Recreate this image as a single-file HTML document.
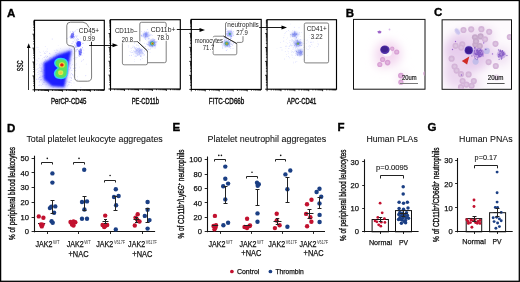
<!DOCTYPE html>
<html><head><meta charset="utf-8"><style>
html,body{margin:0;padding:0;background:#fff;}
svg{display:block;font-family:"Liberation Sans", sans-serif;will-change:transform;}
</style></head><body>
<svg width="520" height="282" viewBox="0 0 520 282">
<rect width="520" height="282" fill="#fff"/>
<rect x="0.6" y="0.5" width="518.7" height="280.8" fill="none" stroke="#000" stroke-width="1.3"/>
<text x="7.0" y="16.5" font-size="11.5" text-anchor="start" fill="#000" font-weight="bold" stroke="#000" stroke-width="0.35">A</text>
<text x="345.8" y="16.599999999999998" font-size="11.5" text-anchor="start" fill="#000" font-weight="bold" stroke="#000" stroke-width="0.35">B</text>
<text x="434.0" y="16.2" font-size="11.5" text-anchor="start" fill="#000" font-weight="bold" stroke="#000" stroke-width="0.35">C</text>
<text x="6.9" y="131.5" font-size="11.5" text-anchor="start" fill="#000" font-weight="bold" stroke="#000" stroke-width="0.35">D</text>
<text x="172.6" y="131.1" font-size="11.5" text-anchor="start" fill="#000" font-weight="bold" stroke="#000" stroke-width="0.35">E</text>
<text x="337.6" y="131.2" font-size="11.5" text-anchor="start" fill="#000" font-weight="bold" stroke="#000" stroke-width="0.35">F</text>
<text x="427.6" y="131.2" font-size="11.5" text-anchor="start" fill="#000" font-weight="bold" stroke="#000" stroke-width="0.35">G</text>
<defs><filter id="b1" x="-50%" y="-50%" width="200%" height="200%"><feGaussianBlur stdDeviation="1.2"/></filter><filter id="b2" x="-50%" y="-50%" width="200%" height="200%"><feGaussianBlur stdDeviation="2.2"/></filter><filter id="b05" x="-50%" y="-50%" width="200%" height="200%"><feGaussianBlur stdDeviation="0.6"/></filter><filter id="b03" x="-50%" y="-50%" width="200%" height="200%"><feGaussianBlur stdDeviation="0.35"/></filter><filter id="b4" x="-50%" y="-50%" width="200%" height="200%"><feGaussianBlur stdDeviation="5"/></filter><radialGradient id="glowB" cx="50%" cy="50%" r="50%"><stop offset="0" stop-color="#f0c8ea" stop-opacity="0.9"/><stop offset="1" stop-color="#fff" stop-opacity="0"/></radialGradient><radialGradient id="bgC" cx="45%" cy="50%" r="70%"><stop offset="0" stop-color="#f3e6f3"/><stop offset="0.6" stop-color="#f5ebf6"/><stop offset="1" stop-color="#fbf7fc"/></radialGradient></defs>
<rect x="34.5" y="20.3" width="69.80" height="69.50" fill="none" stroke="#000" stroke-width="1.15"/>
<path d="M32.50,89.80h2.0 M33.30,85.62h1.2 M33.30,83.17h1.2 M33.30,81.43h1.2 M33.30,80.08h1.2 M33.30,78.98h1.2 M33.30,78.05h1.2 M33.30,77.25h1.2 M33.30,76.54h1.2 M32.50,75.90h2.0 M33.30,71.72h1.2 M33.30,69.27h1.2 M33.30,67.53h1.2 M33.30,66.18h1.2 M33.30,65.08h1.2 M33.30,64.15h1.2 M33.30,63.35h1.2 M33.30,62.64h1.2 M32.50,62.00h2.0 M33.30,57.82h1.2 M33.30,55.37h1.2 M33.30,53.63h1.2 M33.30,52.28h1.2 M33.30,51.18h1.2 M33.30,50.25h1.2 M33.30,49.45h1.2 M33.30,48.74h1.2 M32.50,48.10h2.0 M33.30,43.92h1.2 M33.30,41.47h1.2 M33.30,39.73h1.2 M33.30,38.38h1.2 M33.30,37.28h1.2 M33.30,36.35h1.2 M33.30,35.55h1.2 M33.30,34.84h1.2 M32.50,34.20h2.0 M33.30,30.02h1.2 M33.30,27.57h1.2 M33.30,25.83h1.2 M33.30,24.48h1.2 M33.30,23.38h1.2 M33.30,22.45h1.2 M33.30,21.65h1.2 M33.30,20.94h1.2 M34.50,89.8v2.0 M38.70,89.8v1.2 M41.16,89.8v1.2 M42.90,89.8v1.2 M44.26,89.8v1.2 M45.36,89.8v1.2 M46.30,89.8v1.2 M47.11,89.8v1.2 M47.82,89.8v1.2 M48.46,89.8v2.0 M52.66,89.8v1.2 M55.12,89.8v1.2 M56.86,89.8v1.2 M58.22,89.8v1.2 M59.32,89.8v1.2 M60.26,89.8v1.2 M61.07,89.8v1.2 M61.78,89.8v1.2 M62.42,89.8v2.0 M66.62,89.8v1.2 M69.08,89.8v1.2 M70.82,89.8v1.2 M72.18,89.8v1.2 M73.28,89.8v1.2 M74.22,89.8v1.2 M75.03,89.8v1.2 M75.74,89.8v1.2 M76.38,89.8v2.0 M80.58,89.8v1.2 M83.04,89.8v1.2 M84.78,89.8v1.2 M86.14,89.8v1.2 M87.24,89.8v1.2 M88.18,89.8v1.2 M88.99,89.8v1.2 M89.70,89.8v1.2 M90.34,89.8v2.0 M94.54,89.8v1.2 M97.00,89.8v1.2 M98.74,89.8v1.2 M100.10,89.8v1.2 M101.20,89.8v1.2 M102.14,89.8v1.2 M102.95,89.8v1.2 M103.66,89.8v1.2" stroke="#000" stroke-width="0.85" fill="none"/>
<clipPath id="clipP1"><rect x="34.9" y="20.7" width="68.8" height="68.7"/></clipPath><g clip-path="url(#clipP1)">
<g fill="#5a5aff" opacity="0.4"><circle cx="53.4" cy="74.6" r="0.41"/><circle cx="67.1" cy="74.9" r="0.34"/><circle cx="67.1" cy="73.8" r="0.26"/><circle cx="52.5" cy="71.4" r="0.27"/><circle cx="39.3" cy="77.7" r="0.28"/><circle cx="58.4" cy="82.5" r="0.49"/><circle cx="47.1" cy="65.8" r="0.49"/><circle cx="74.9" cy="75.1" r="0.32"/><circle cx="59.1" cy="73.5" r="0.33"/><circle cx="58.5" cy="64.8" r="0.40"/><circle cx="49.8" cy="63.3" r="0.39"/><circle cx="59.2" cy="71.2" r="0.30"/><circle cx="51.5" cy="61.4" r="0.33"/><circle cx="46.6" cy="64.9" r="0.32"/><circle cx="60.3" cy="56.6" r="0.31"/><circle cx="45.1" cy="65.0" r="0.47"/><circle cx="54.9" cy="62.6" r="0.50"/><circle cx="63.7" cy="76.3" r="0.44"/><circle cx="62.7" cy="78.5" r="0.26"/><circle cx="47.6" cy="56.7" r="0.39"/><circle cx="62.2" cy="64.5" r="0.42"/><circle cx="45.1" cy="63.4" r="0.36"/><circle cx="68.9" cy="51.7" r="0.37"/><circle cx="54.2" cy="67.3" r="0.43"/><circle cx="37.0" cy="47.3" r="0.46"/><circle cx="53.9" cy="78.7" r="0.42"/><circle cx="67.0" cy="71.4" r="0.29"/><circle cx="58.6" cy="72.1" r="0.44"/><circle cx="61.2" cy="74.9" r="0.35"/><circle cx="58.8" cy="67.3" r="0.36"/><circle cx="36.3" cy="64.3" r="0.45"/><circle cx="61.3" cy="64.5" r="0.35"/><circle cx="42.9" cy="84.5" r="0.49"/><circle cx="59.6" cy="74.6" r="0.31"/><circle cx="57.2" cy="80.3" r="0.40"/><circle cx="55.9" cy="70.8" r="0.35"/><circle cx="47.2" cy="78.5" r="0.49"/><circle cx="51.6" cy="59.9" r="0.40"/><circle cx="54.5" cy="67.3" r="0.47"/><circle cx="59.8" cy="52.0" r="0.45"/><circle cx="48.1" cy="75.7" r="0.28"/><circle cx="53.6" cy="67.6" r="0.27"/><circle cx="57.5" cy="75.2" r="0.34"/><circle cx="56.2" cy="70.1" r="0.29"/><circle cx="63.6" cy="75.1" r="0.26"/><circle cx="65.7" cy="61.2" r="0.29"/><circle cx="55.9" cy="78.3" r="0.34"/><circle cx="69.9" cy="82.2" r="0.50"/><circle cx="44.8" cy="72.2" r="0.27"/><circle cx="63.3" cy="74.9" r="0.32"/><circle cx="58.8" cy="65.3" r="0.26"/><circle cx="67.7" cy="66.7" r="0.29"/><circle cx="53.7" cy="69.4" r="0.38"/><circle cx="75.8" cy="67.6" r="0.42"/><circle cx="55.3" cy="78.6" r="0.29"/><circle cx="57.7" cy="59.0" r="0.44"/><circle cx="52.6" cy="75.6" r="0.45"/><circle cx="75.5" cy="68.3" r="0.45"/><circle cx="62.8" cy="56.6" r="0.31"/><circle cx="46.7" cy="69.1" r="0.26"/><circle cx="64.0" cy="71.3" r="0.31"/><circle cx="47.2" cy="48.9" r="0.36"/><circle cx="83.5" cy="59.7" r="0.49"/><circle cx="51.3" cy="74.8" r="0.31"/><circle cx="58.2" cy="75.7" r="0.41"/><circle cx="71.5" cy="59.9" r="0.37"/><circle cx="45.7" cy="56.8" r="0.27"/><circle cx="44.3" cy="53.3" r="0.45"/><circle cx="56.0" cy="59.7" r="0.29"/><circle cx="58.2" cy="62.2" r="0.45"/><circle cx="65.9" cy="68.4" r="0.35"/><circle cx="71.2" cy="65.3" r="0.29"/><circle cx="60.0" cy="73.7" r="0.48"/><circle cx="58.0" cy="65.3" r="0.46"/><circle cx="70.5" cy="68.4" r="0.34"/><circle cx="50.9" cy="68.6" r="0.25"/><circle cx="70.2" cy="67.6" r="0.38"/><circle cx="65.8" cy="66.1" r="0.47"/><circle cx="59.2" cy="64.5" r="0.31"/><circle cx="54.0" cy="76.4" r="0.40"/><circle cx="55.4" cy="79.4" r="0.28"/><circle cx="63.9" cy="65.5" r="0.36"/><circle cx="37.2" cy="60.2" r="0.36"/><circle cx="66.3" cy="64.8" r="0.38"/><circle cx="54.1" cy="69.7" r="0.36"/><circle cx="56.4" cy="70.7" r="0.45"/><circle cx="61.3" cy="79.0" r="0.43"/><circle cx="47.7" cy="67.2" r="0.38"/><circle cx="39.5" cy="64.6" r="0.28"/><circle cx="49.0" cy="67.5" r="0.32"/><circle cx="57.7" cy="59.4" r="0.39"/><circle cx="57.4" cy="50.2" r="0.36"/><circle cx="47.0" cy="63.1" r="0.38"/><circle cx="52.1" cy="60.8" r="0.38"/><circle cx="32.4" cy="73.0" r="0.42"/><circle cx="73.0" cy="55.0" r="0.31"/><circle cx="33.7" cy="62.1" r="0.46"/><circle cx="59.3" cy="73.5" r="0.36"/><circle cx="62.7" cy="72.9" r="0.27"/><circle cx="47.5" cy="56.2" r="0.47"/><circle cx="65.0" cy="81.8" r="0.42"/><circle cx="68.9" cy="84.6" r="0.49"/><circle cx="60.7" cy="91.8" r="0.35"/><circle cx="25.8" cy="72.2" r="0.46"/><circle cx="61.6" cy="78.1" r="0.38"/><circle cx="52.5" cy="75.0" r="0.33"/><circle cx="55.7" cy="68.2" r="0.39"/><circle cx="54.2" cy="70.6" r="0.33"/><circle cx="47.5" cy="62.4" r="0.27"/><circle cx="73.5" cy="68.5" r="0.49"/><circle cx="62.2" cy="74.3" r="0.26"/><circle cx="57.4" cy="63.0" r="0.28"/><circle cx="36.6" cy="79.3" r="0.45"/><circle cx="55.7" cy="75.1" r="0.48"/><circle cx="42.0" cy="64.0" r="0.27"/><circle cx="70.3" cy="74.9" r="0.36"/><circle cx="77.2" cy="79.3" r="0.41"/><circle cx="57.3" cy="66.4" r="0.46"/><circle cx="74.2" cy="77.3" r="0.36"/><circle cx="49.3" cy="79.7" r="0.48"/><circle cx="55.4" cy="74.7" r="0.38"/><circle cx="56.3" cy="74.3" r="0.29"/><circle cx="62.4" cy="71.9" r="0.33"/><circle cx="50.3" cy="84.3" r="0.32"/><circle cx="49.7" cy="70.0" r="0.34"/><circle cx="63.5" cy="70.8" r="0.25"/><circle cx="54.7" cy="58.7" r="0.30"/><circle cx="32.9" cy="73.3" r="0.28"/><circle cx="60.5" cy="61.3" r="0.37"/><circle cx="61.1" cy="62.2" r="0.38"/><circle cx="45.2" cy="46.3" r="0.34"/><circle cx="63.7" cy="57.7" r="0.41"/><circle cx="48.4" cy="74.7" r="0.26"/><circle cx="58.6" cy="72.5" r="0.44"/><circle cx="55.8" cy="75.4" r="0.27"/><circle cx="67.0" cy="54.7" r="0.42"/><circle cx="54.5" cy="76.6" r="0.32"/><circle cx="50.3" cy="71.3" r="0.36"/><circle cx="53.9" cy="92.9" r="0.49"/><circle cx="48.8" cy="68.0" r="0.49"/><circle cx="52.6" cy="77.9" r="0.25"/><circle cx="47.7" cy="76.9" r="0.38"/><circle cx="59.6" cy="80.2" r="0.25"/><circle cx="55.6" cy="73.9" r="0.35"/><circle cx="58.1" cy="70.5" r="0.33"/><circle cx="57.4" cy="81.9" r="0.38"/><circle cx="56.0" cy="56.8" r="0.43"/><circle cx="63.2" cy="63.8" r="0.33"/><circle cx="61.7" cy="69.5" r="0.43"/><circle cx="54.1" cy="67.9" r="0.46"/><circle cx="66.9" cy="62.1" r="0.43"/><circle cx="58.1" cy="65.4" r="0.38"/><circle cx="37.0" cy="69.5" r="0.45"/><circle cx="62.1" cy="59.4" r="0.47"/><circle cx="49.7" cy="57.4" r="0.31"/><circle cx="61.2" cy="70.9" r="0.34"/><circle cx="71.0" cy="80.5" r="0.39"/><circle cx="46.3" cy="60.9" r="0.42"/><circle cx="55.2" cy="70.0" r="0.45"/><circle cx="55.9" cy="59.4" r="0.38"/><circle cx="54.0" cy="67.2" r="0.43"/><circle cx="55.9" cy="73.5" r="0.32"/><circle cx="55.1" cy="64.0" r="0.43"/><circle cx="67.5" cy="68.4" r="0.35"/><circle cx="41.0" cy="71.8" r="0.44"/><circle cx="45.4" cy="61.3" r="0.27"/><circle cx="60.6" cy="75.5" r="0.44"/><circle cx="51.7" cy="81.0" r="0.25"/><circle cx="63.3" cy="72.6" r="0.42"/><circle cx="50.7" cy="57.4" r="0.32"/><circle cx="44.9" cy="69.0" r="0.37"/><circle cx="71.6" cy="82.9" r="0.30"/><circle cx="79.2" cy="67.1" r="0.25"/><circle cx="38.1" cy="74.2" r="0.49"/><circle cx="48.5" cy="72.2" r="0.30"/><circle cx="62.5" cy="67.9" r="0.40"/><circle cx="63.7" cy="78.5" r="0.49"/><circle cx="68.5" cy="82.3" r="0.38"/><circle cx="67.8" cy="60.8" r="0.31"/><circle cx="65.2" cy="63.8" r="0.26"/><circle cx="67.6" cy="70.2" r="0.36"/><circle cx="54.2" cy="74.7" r="0.34"/><circle cx="48.3" cy="85.8" r="0.25"/><circle cx="56.1" cy="52.8" r="0.28"/><circle cx="70.1" cy="63.7" r="0.48"/><circle cx="53.6" cy="78.4" r="0.35"/><circle cx="69.3" cy="69.9" r="0.34"/><circle cx="48.8" cy="73.2" r="0.26"/><circle cx="71.2" cy="80.2" r="0.32"/><circle cx="63.0" cy="67.3" r="0.32"/><circle cx="49.5" cy="69.6" r="0.34"/><circle cx="76.0" cy="64.9" r="0.45"/><circle cx="40.9" cy="55.4" r="0.49"/><circle cx="40.8" cy="65.6" r="0.26"/><circle cx="54.8" cy="60.2" r="0.44"/><circle cx="50.9" cy="64.2" r="0.26"/><circle cx="60.7" cy="67.9" r="0.37"/><circle cx="51.3" cy="76.3" r="0.43"/><circle cx="63.7" cy="69.0" r="0.41"/><circle cx="52.0" cy="80.9" r="0.35"/><circle cx="58.9" cy="74.6" r="0.30"/><circle cx="65.7" cy="64.1" r="0.31"/><circle cx="83.9" cy="53.2" r="0.36"/><circle cx="60.2" cy="74.5" r="0.27"/><circle cx="53.6" cy="73.3" r="0.31"/><circle cx="55.3" cy="81.7" r="0.47"/><circle cx="56.0" cy="60.7" r="0.35"/><circle cx="46.4" cy="68.7" r="0.33"/><circle cx="63.5" cy="72.8" r="0.49"/><circle cx="64.3" cy="77.6" r="0.41"/><circle cx="60.5" cy="65.2" r="0.32"/><circle cx="56.1" cy="79.1" r="0.36"/><circle cx="74.6" cy="65.0" r="0.47"/><circle cx="58.5" cy="70.3" r="0.43"/><circle cx="65.0" cy="63.8" r="0.40"/><circle cx="66.0" cy="70.0" r="0.48"/><circle cx="65.0" cy="54.3" r="0.49"/><circle cx="56.0" cy="74.3" r="0.29"/><circle cx="41.0" cy="68.1" r="0.49"/><circle cx="53.4" cy="57.2" r="0.44"/><circle cx="43.8" cy="73.0" r="0.26"/><circle cx="57.5" cy="63.6" r="0.48"/><circle cx="50.8" cy="63.9" r="0.28"/><circle cx="55.8" cy="82.8" r="0.42"/><circle cx="58.9" cy="72.2" r="0.38"/><circle cx="47.4" cy="65.6" r="0.31"/><circle cx="54.8" cy="69.2" r="0.33"/><circle cx="31.5" cy="75.6" r="0.41"/><circle cx="64.5" cy="63.2" r="0.31"/><circle cx="56.5" cy="92.9" r="0.43"/><circle cx="55.3" cy="71.8" r="0.37"/><circle cx="51.2" cy="61.6" r="0.31"/><circle cx="44.7" cy="52.2" r="0.31"/><circle cx="64.9" cy="71.7" r="0.36"/><circle cx="53.3" cy="64.5" r="0.45"/><circle cx="55.2" cy="59.4" r="0.30"/><circle cx="64.5" cy="68.5" r="0.46"/><circle cx="56.9" cy="76.3" r="0.44"/><circle cx="49.1" cy="91.3" r="0.37"/><circle cx="58.7" cy="75.9" r="0.35"/><circle cx="43.6" cy="51.1" r="0.29"/><circle cx="50.6" cy="73.9" r="0.49"/><circle cx="58.0" cy="72.3" r="0.27"/><circle cx="39.2" cy="82.0" r="0.47"/><circle cx="52.2" cy="39.0" r="0.48"/><circle cx="52.9" cy="75.1" r="0.48"/><circle cx="55.9" cy="67.7" r="0.42"/><circle cx="49.0" cy="76.0" r="0.33"/><circle cx="56.4" cy="70.6" r="0.32"/><circle cx="41.1" cy="88.0" r="0.28"/><circle cx="62.6" cy="68.6" r="0.34"/><circle cx="64.1" cy="54.9" r="0.36"/><circle cx="66.8" cy="73.1" r="0.34"/><circle cx="61.7" cy="67.1" r="0.34"/><circle cx="58.0" cy="68.7" r="0.35"/><circle cx="62.5" cy="55.8" r="0.26"/><circle cx="59.5" cy="70.7" r="0.48"/><circle cx="55.3" cy="84.9" r="0.47"/><circle cx="51.8" cy="76.1" r="0.49"/><circle cx="50.2" cy="65.3" r="0.43"/><circle cx="52.7" cy="76.6" r="0.25"/><circle cx="56.8" cy="50.0" r="0.41"/><circle cx="58.1" cy="69.3" r="0.31"/><circle cx="31.2" cy="73.5" r="0.49"/><circle cx="50.2" cy="74.5" r="0.36"/><circle cx="33.1" cy="70.8" r="0.30"/><circle cx="61.3" cy="56.1" r="0.46"/><circle cx="58.0" cy="57.8" r="0.33"/><circle cx="52.0" cy="77.7" r="0.45"/><circle cx="61.8" cy="72.8" r="0.44"/><circle cx="56.1" cy="73.3" r="0.26"/><circle cx="47.6" cy="67.4" r="0.50"/><circle cx="78.1" cy="52.1" r="0.32"/><circle cx="59.9" cy="72.0" r="0.37"/><circle cx="53.3" cy="60.5" r="0.31"/><circle cx="43.9" cy="76.3" r="0.42"/><circle cx="55.8" cy="52.6" r="0.42"/><circle cx="69.9" cy="81.9" r="0.32"/><circle cx="47.2" cy="66.5" r="0.43"/><circle cx="58.4" cy="76.4" r="0.31"/><circle cx="67.9" cy="85.3" r="0.39"/><circle cx="51.4" cy="78.0" r="0.50"/><circle cx="48.8" cy="69.7" r="0.45"/><circle cx="38.5" cy="47.3" r="0.28"/><circle cx="37.7" cy="72.6" r="0.46"/><circle cx="58.5" cy="68.7" r="0.32"/><circle cx="60.7" cy="74.0" r="0.49"/><circle cx="36.0" cy="59.6" r="0.34"/><circle cx="63.3" cy="62.7" r="0.31"/><circle cx="60.2" cy="48.6" r="0.28"/><circle cx="44.6" cy="62.9" r="0.30"/><circle cx="52.3" cy="73.6" r="0.30"/><circle cx="55.6" cy="82.2" r="0.41"/><circle cx="56.4" cy="71.3" r="0.33"/><circle cx="53.2" cy="64.8" r="0.33"/><circle cx="61.1" cy="85.3" r="0.39"/><circle cx="60.3" cy="71.6" r="0.35"/><circle cx="42.4" cy="66.0" r="0.27"/><circle cx="64.0" cy="81.9" r="0.35"/><circle cx="54.2" cy="77.5" r="0.49"/><circle cx="51.1" cy="80.8" r="0.34"/><circle cx="38.7" cy="79.0" r="0.50"/><circle cx="51.7" cy="74.5" r="0.43"/><circle cx="56.3" cy="70.9" r="0.48"/><circle cx="39.6" cy="77.7" r="0.35"/><circle cx="64.2" cy="63.3" r="0.29"/><circle cx="68.6" cy="71.1" r="0.41"/><circle cx="59.6" cy="67.9" r="0.41"/><circle cx="47.8" cy="77.7" r="0.29"/><circle cx="53.5" cy="80.7" r="0.48"/><circle cx="65.0" cy="76.6" r="0.45"/><circle cx="62.5" cy="68.8" r="0.28"/><circle cx="81.5" cy="61.4" r="0.37"/><circle cx="77.6" cy="76.8" r="0.35"/><circle cx="67.5" cy="62.9" r="0.46"/><circle cx="65.4" cy="83.4" r="0.31"/><circle cx="40.0" cy="79.8" r="0.46"/><circle cx="58.9" cy="75.8" r="0.35"/><circle cx="46.2" cy="69.0" r="0.28"/><circle cx="56.3" cy="84.5" r="0.47"/><circle cx="68.4" cy="73.0" r="0.44"/><circle cx="74.5" cy="74.1" r="0.28"/><circle cx="45.8" cy="63.3" r="0.41"/><circle cx="52.4" cy="78.8" r="0.40"/><circle cx="42.9" cy="75.9" r="0.36"/><circle cx="54.0" cy="70.7" r="0.40"/><circle cx="48.7" cy="70.4" r="0.44"/><circle cx="58.1" cy="60.2" r="0.29"/><circle cx="51.3" cy="70.7" r="0.28"/><circle cx="52.0" cy="71.7" r="0.36"/><circle cx="53.1" cy="69.8" r="0.41"/><circle cx="70.1" cy="77.2" r="0.44"/><circle cx="52.7" cy="69.8" r="0.38"/><circle cx="38.3" cy="85.3" r="0.28"/><circle cx="76.8" cy="46.5" r="0.43"/><circle cx="58.6" cy="64.6" r="0.50"/><circle cx="31.0" cy="71.2" r="0.48"/><circle cx="65.0" cy="83.7" r="0.48"/><circle cx="64.5" cy="73.3" r="0.44"/><circle cx="67.6" cy="86.1" r="0.32"/><circle cx="58.2" cy="65.4" r="0.38"/><circle cx="62.0" cy="67.0" r="0.32"/><circle cx="47.2" cy="69.7" r="0.26"/><circle cx="58.5" cy="74.9" r="0.48"/><circle cx="46.9" cy="52.7" r="0.29"/><circle cx="57.1" cy="65.7" r="0.38"/><circle cx="49.8" cy="63.6" r="0.47"/><circle cx="43.6" cy="66.0" r="0.47"/><circle cx="80.9" cy="87.3" r="0.41"/><circle cx="41.9" cy="79.9" r="0.32"/><circle cx="69.1" cy="69.3" r="0.34"/><circle cx="57.0" cy="60.3" r="0.29"/><circle cx="55.9" cy="67.2" r="0.45"/><circle cx="55.7" cy="82.8" r="0.50"/><circle cx="43.3" cy="63.2" r="0.33"/><circle cx="58.6" cy="70.0" r="0.29"/><circle cx="48.1" cy="63.6" r="0.38"/><circle cx="60.2" cy="67.1" r="0.31"/><circle cx="54.8" cy="68.4" r="0.25"/><circle cx="53.1" cy="73.4" r="0.34"/><circle cx="58.1" cy="81.8" r="0.40"/><circle cx="60.0" cy="82.1" r="0.37"/><circle cx="71.6" cy="85.8" r="0.31"/><circle cx="58.7" cy="73.3" r="0.41"/><circle cx="68.1" cy="58.6" r="0.35"/><circle cx="55.9" cy="71.4" r="0.41"/><circle cx="47.4" cy="66.8" r="0.41"/><circle cx="33.9" cy="77.3" r="0.43"/><circle cx="56.2" cy="89.5" r="0.26"/><circle cx="46.0" cy="68.2" r="0.31"/><circle cx="72.2" cy="75.6" r="0.25"/><circle cx="33.4" cy="63.3" r="0.29"/><circle cx="60.3" cy="81.7" r="0.38"/><circle cx="44.5" cy="57.2" r="0.29"/><circle cx="52.9" cy="77.1" r="0.26"/><circle cx="69.4" cy="59.9" r="0.43"/><circle cx="75.3" cy="70.7" r="0.44"/><circle cx="39.9" cy="73.2" r="0.36"/><circle cx="56.7" cy="74.2" r="0.31"/><circle cx="64.8" cy="72.0" r="0.44"/><circle cx="49.5" cy="53.6" r="0.43"/><circle cx="54.7" cy="81.4" r="0.36"/><circle cx="58.9" cy="59.4" r="0.32"/><circle cx="39.7" cy="51.8" r="0.30"/><circle cx="57.3" cy="68.9" r="0.32"/><circle cx="57.4" cy="84.8" r="0.49"/><circle cx="55.8" cy="62.0" r="0.47"/><circle cx="52.5" cy="75.9" r="0.48"/><circle cx="45.5" cy="59.9" r="0.42"/><circle cx="67.2" cy="68.7" r="0.46"/><circle cx="49.6" cy="53.2" r="0.36"/><circle cx="53.9" cy="58.5" r="0.33"/><circle cx="59.3" cy="82.2" r="0.27"/><circle cx="60.7" cy="67.3" r="0.26"/><circle cx="74.0" cy="82.9" r="0.34"/><circle cx="57.5" cy="71.7" r="0.26"/><circle cx="51.0" cy="58.1" r="0.42"/><circle cx="55.7" cy="66.7" r="0.40"/><circle cx="43.9" cy="82.6" r="0.45"/><circle cx="58.9" cy="67.9" r="0.47"/><circle cx="76.6" cy="58.9" r="0.28"/><circle cx="57.3" cy="74.2" r="0.26"/><circle cx="66.5" cy="56.6" r="0.41"/><circle cx="62.4" cy="58.7" r="0.32"/><circle cx="59.7" cy="72.4" r="0.44"/><circle cx="58.4" cy="77.6" r="0.36"/><circle cx="63.6" cy="70.9" r="0.32"/><circle cx="54.0" cy="61.6" r="0.33"/><circle cx="67.5" cy="67.6" r="0.46"/><circle cx="54.2" cy="68.5" r="0.35"/><circle cx="40.1" cy="76.0" r="0.34"/><circle cx="52.5" cy="59.3" r="0.30"/><circle cx="58.8" cy="67.0" r="0.45"/><circle cx="56.2" cy="70.4" r="0.30"/><circle cx="58.1" cy="45.2" r="0.25"/><circle cx="44.4" cy="70.6" r="0.45"/><circle cx="60.7" cy="79.6" r="0.34"/><circle cx="59.8" cy="63.9" r="0.49"/><circle cx="54.5" cy="76.1" r="0.42"/><circle cx="51.2" cy="70.0" r="0.41"/><circle cx="71.4" cy="77.7" r="0.42"/><circle cx="59.2" cy="57.7" r="0.34"/><circle cx="47.8" cy="75.2" r="0.47"/><circle cx="73.9" cy="79.7" r="0.26"/><circle cx="58.1" cy="76.8" r="0.48"/><circle cx="46.2" cy="69.9" r="0.47"/><circle cx="57.1" cy="80.0" r="0.38"/><circle cx="56.5" cy="55.0" r="0.41"/><circle cx="50.8" cy="76.5" r="0.29"/><circle cx="64.1" cy="58.9" r="0.44"/><circle cx="61.2" cy="78.5" r="0.44"/><circle cx="51.4" cy="67.8" r="0.37"/><circle cx="61.5" cy="65.6" r="0.30"/><circle cx="51.0" cy="83.3" r="0.46"/><circle cx="59.3" cy="74.3" r="0.31"/><circle cx="50.4" cy="79.7" r="0.29"/><circle cx="52.9" cy="75.1" r="0.49"/><circle cx="55.4" cy="65.9" r="0.49"/><circle cx="63.9" cy="75.3" r="0.50"/><circle cx="60.5" cy="55.9" r="0.36"/><circle cx="60.7" cy="82.1" r="0.28"/><circle cx="58.7" cy="78.6" r="0.26"/><circle cx="41.7" cy="79.4" r="0.42"/><circle cx="41.9" cy="70.0" r="0.37"/><circle cx="64.6" cy="79.5" r="0.35"/><circle cx="54.8" cy="50.4" r="0.36"/><circle cx="41.1" cy="63.3" r="0.36"/><circle cx="58.1" cy="84.3" r="0.47"/><circle cx="58.3" cy="56.2" r="0.46"/><circle cx="49.9" cy="58.3" r="0.36"/><circle cx="50.6" cy="81.7" r="0.27"/><circle cx="40.7" cy="77.6" r="0.43"/><circle cx="50.8" cy="65.0" r="0.36"/><circle cx="42.6" cy="73.5" r="0.35"/><circle cx="45.6" cy="51.5" r="0.30"/><circle cx="46.2" cy="57.1" r="0.35"/><circle cx="28.9" cy="71.6" r="0.26"/><circle cx="50.3" cy="68.6" r="0.45"/><circle cx="67.3" cy="66.0" r="0.28"/><circle cx="44.9" cy="64.9" r="0.43"/><circle cx="41.8" cy="69.0" r="0.46"/><circle cx="45.8" cy="68.7" r="0.49"/><circle cx="59.8" cy="83.2" r="0.35"/><circle cx="56.4" cy="65.4" r="0.50"/><circle cx="53.9" cy="72.4" r="0.32"/><circle cx="54.7" cy="70.9" r="0.35"/><circle cx="42.4" cy="76.7" r="0.34"/><circle cx="55.3" cy="76.4" r="0.44"/><circle cx="67.4" cy="65.9" r="0.30"/><circle cx="59.2" cy="61.5" r="0.30"/><circle cx="67.9" cy="81.3" r="0.45"/><circle cx="48.5" cy="62.4" r="0.39"/><circle cx="59.9" cy="92.9" r="0.34"/><circle cx="44.1" cy="57.3" r="0.45"/><circle cx="47.8" cy="71.5" r="0.39"/><circle cx="69.4" cy="82.1" r="0.34"/><circle cx="60.7" cy="64.3" r="0.34"/><circle cx="55.8" cy="79.5" r="0.30"/><circle cx="72.0" cy="70.2" r="0.32"/><circle cx="56.3" cy="77.6" r="0.37"/><circle cx="43.2" cy="75.6" r="0.41"/><circle cx="41.1" cy="85.7" r="0.46"/><circle cx="73.6" cy="75.9" r="0.48"/><circle cx="57.2" cy="65.2" r="0.46"/><circle cx="54.8" cy="68.8" r="0.25"/><circle cx="69.9" cy="66.1" r="0.31"/><circle cx="60.5" cy="73.0" r="0.31"/><circle cx="57.5" cy="61.8" r="0.29"/><circle cx="70.6" cy="61.0" r="0.29"/><circle cx="66.6" cy="62.2" r="0.45"/><circle cx="45.6" cy="53.4" r="0.45"/><circle cx="59.5" cy="64.9" r="0.42"/><circle cx="39.8" cy="67.2" r="0.36"/><circle cx="65.4" cy="62.3" r="0.32"/><circle cx="56.5" cy="74.9" r="0.37"/><circle cx="66.5" cy="73.6" r="0.29"/><circle cx="44.3" cy="70.6" r="0.38"/><circle cx="56.7" cy="69.2" r="0.46"/><circle cx="43.4" cy="72.3" r="0.42"/><circle cx="61.2" cy="62.6" r="0.35"/><circle cx="59.8" cy="69.1" r="0.41"/><circle cx="54.4" cy="68.4" r="0.40"/><circle cx="46.5" cy="51.0" r="0.33"/><circle cx="67.9" cy="68.8" r="0.37"/><circle cx="58.1" cy="68.6" r="0.43"/><circle cx="49.6" cy="64.2" r="0.47"/><circle cx="48.4" cy="77.6" r="0.38"/><circle cx="56.9" cy="63.9" r="0.36"/><circle cx="44.8" cy="75.4" r="0.46"/><circle cx="51.0" cy="86.3" r="0.35"/><circle cx="48.0" cy="69.8" r="0.38"/><circle cx="70.4" cy="67.9" r="0.45"/><circle cx="51.7" cy="76.9" r="0.32"/><circle cx="43.8" cy="63.4" r="0.45"/><circle cx="71.5" cy="73.6" r="0.47"/><circle cx="52.9" cy="69.2" r="0.33"/><circle cx="62.5" cy="70.2" r="0.48"/><circle cx="44.6" cy="61.7" r="0.45"/><circle cx="67.6" cy="63.4" r="0.40"/><circle cx="45.2" cy="60.1" r="0.40"/><circle cx="53.1" cy="64.4" r="0.42"/><circle cx="39.6" cy="74.0" r="0.28"/><circle cx="57.1" cy="72.2" r="0.44"/><circle cx="68.5" cy="63.2" r="0.34"/><circle cx="63.7" cy="55.8" r="0.39"/><circle cx="55.6" cy="77.6" r="0.36"/><circle cx="51.6" cy="78.7" r="0.41"/><circle cx="59.1" cy="68.8" r="0.39"/><circle cx="60.9" cy="71.1" r="0.45"/><circle cx="36.1" cy="60.8" r="0.36"/><circle cx="65.9" cy="70.8" r="0.40"/><circle cx="82.0" cy="60.3" r="0.37"/><circle cx="52.0" cy="72.2" r="0.41"/><circle cx="57.3" cy="75.0" r="0.25"/><circle cx="71.2" cy="70.4" r="0.28"/><circle cx="60.2" cy="69.2" r="0.47"/><circle cx="57.3" cy="71.2" r="0.43"/><circle cx="56.8" cy="84.6" r="0.30"/><circle cx="72.4" cy="74.8" r="0.43"/><circle cx="66.0" cy="58.5" r="0.27"/><circle cx="45.1" cy="59.8" r="0.37"/><circle cx="63.0" cy="67.2" r="0.49"/><circle cx="55.7" cy="68.7" r="0.25"/><circle cx="45.2" cy="56.5" r="0.27"/><circle cx="49.9" cy="83.5" r="0.29"/><circle cx="63.4" cy="62.0" r="0.26"/><circle cx="47.2" cy="78.7" r="0.36"/><circle cx="53.5" cy="65.5" r="0.45"/><circle cx="46.6" cy="79.8" r="0.41"/><circle cx="47.4" cy="74.4" r="0.45"/><circle cx="72.5" cy="64.7" r="0.39"/><circle cx="55.1" cy="73.1" r="0.49"/><circle cx="50.6" cy="53.9" r="0.33"/><circle cx="34.3" cy="54.7" r="0.46"/><circle cx="49.1" cy="65.4" r="0.36"/><circle cx="63.4" cy="64.3" r="0.42"/><circle cx="38.9" cy="58.6" r="0.45"/><circle cx="55.9" cy="70.5" r="0.32"/><circle cx="44.3" cy="75.6" r="0.45"/><circle cx="58.2" cy="68.3" r="0.46"/><circle cx="63.6" cy="53.3" r="0.39"/><circle cx="53.1" cy="87.4" r="0.45"/><circle cx="47.2" cy="51.7" r="0.34"/><circle cx="66.9" cy="75.8" r="0.45"/><circle cx="61.1" cy="84.3" r="0.48"/><circle cx="57.4" cy="82.2" r="0.42"/><circle cx="49.4" cy="71.3" r="0.31"/><circle cx="56.1" cy="54.1" r="0.36"/><circle cx="71.4" cy="78.5" r="0.44"/><circle cx="57.4" cy="81.8" r="0.47"/><circle cx="65.1" cy="62.8" r="0.37"/><circle cx="50.5" cy="66.9" r="0.30"/><circle cx="62.6" cy="82.7" r="0.34"/><circle cx="46.7" cy="66.4" r="0.38"/><circle cx="57.8" cy="72.2" r="0.50"/><circle cx="52.7" cy="73.0" r="0.41"/><circle cx="57.4" cy="64.9" r="0.40"/><circle cx="49.2" cy="79.0" r="0.26"/><circle cx="85.8" cy="75.7" r="0.47"/><circle cx="43.1" cy="71.0" r="0.32"/><circle cx="57.9" cy="60.7" r="0.49"/><circle cx="58.0" cy="53.5" r="0.49"/><circle cx="55.9" cy="72.5" r="0.30"/><circle cx="57.8" cy="73.4" r="0.26"/><circle cx="37.1" cy="63.6" r="0.36"/><circle cx="76.7" cy="63.6" r="0.27"/><circle cx="47.8" cy="64.8" r="0.28"/><circle cx="63.5" cy="68.2" r="0.39"/><circle cx="40.1" cy="52.6" r="0.42"/><circle cx="47.5" cy="76.1" r="0.29"/><circle cx="86.2" cy="64.1" r="0.31"/><circle cx="63.5" cy="71.7" r="0.34"/><circle cx="73.8" cy="58.8" r="0.46"/><circle cx="72.8" cy="74.6" r="0.43"/><circle cx="38.4" cy="49.2" r="0.26"/><circle cx="66.3" cy="81.9" r="0.48"/><circle cx="52.3" cy="63.2" r="0.40"/><circle cx="56.2" cy="65.8" r="0.33"/><circle cx="55.8" cy="74.6" r="0.37"/><circle cx="59.6" cy="75.8" r="0.29"/></g>
<g fill="#7070ff" opacity="0.35"><circle cx="42.7" cy="70.9" r="0.38"/><circle cx="43.4" cy="74.0" r="0.43"/><circle cx="44.7" cy="90.3" r="0.42"/><circle cx="44.7" cy="69.2" r="0.31"/><circle cx="50.5" cy="82.5" r="0.41"/><circle cx="40.0" cy="65.7" r="0.28"/><circle cx="45.0" cy="63.8" r="0.36"/><circle cx="44.8" cy="76.4" r="0.21"/><circle cx="41.9" cy="62.1" r="0.24"/><circle cx="45.2" cy="67.4" r="0.30"/><circle cx="44.8" cy="77.3" r="0.41"/><circle cx="41.8" cy="76.2" r="0.32"/><circle cx="39.4" cy="87.7" r="0.23"/><circle cx="44.4" cy="71.6" r="0.42"/><circle cx="41.6" cy="67.2" r="0.32"/><circle cx="42.3" cy="78.0" r="0.25"/><circle cx="34.9" cy="90.5" r="0.45"/><circle cx="44.6" cy="70.4" r="0.27"/><circle cx="44.1" cy="70.3" r="0.38"/><circle cx="40.0" cy="93.4" r="0.20"/><circle cx="44.3" cy="65.2" r="0.24"/><circle cx="50.6" cy="72.2" r="0.33"/><circle cx="44.7" cy="79.9" r="0.43"/><circle cx="44.0" cy="82.2" r="0.23"/><circle cx="45.9" cy="84.4" r="0.38"/><circle cx="43.5" cy="75.1" r="0.22"/><circle cx="39.4" cy="66.1" r="0.27"/><circle cx="44.5" cy="82.6" r="0.38"/><circle cx="45.0" cy="62.2" r="0.25"/><circle cx="49.0" cy="77.2" r="0.30"/><circle cx="42.8" cy="69.3" r="0.40"/><circle cx="39.1" cy="85.2" r="0.42"/><circle cx="42.3" cy="72.1" r="0.43"/><circle cx="35.0" cy="74.4" r="0.27"/><circle cx="46.0" cy="85.9" r="0.29"/><circle cx="45.0" cy="78.6" r="0.35"/><circle cx="47.8" cy="72.3" r="0.31"/><circle cx="41.0" cy="71.6" r="0.38"/><circle cx="46.3" cy="57.4" r="0.28"/><circle cx="42.1" cy="64.4" r="0.39"/><circle cx="50.5" cy="78.1" r="0.44"/><circle cx="38.2" cy="72.3" r="0.33"/><circle cx="42.2" cy="71.6" r="0.44"/><circle cx="43.4" cy="77.0" r="0.23"/><circle cx="43.0" cy="86.7" r="0.21"/><circle cx="48.1" cy="79.1" r="0.25"/><circle cx="48.4" cy="73.2" r="0.34"/><circle cx="36.8" cy="70.2" r="0.23"/><circle cx="47.3" cy="62.7" r="0.21"/><circle cx="46.3" cy="78.5" r="0.33"/><circle cx="42.6" cy="76.0" r="0.30"/><circle cx="46.5" cy="80.1" r="0.42"/><circle cx="46.1" cy="80.3" r="0.39"/><circle cx="46.8" cy="84.8" r="0.43"/><circle cx="39.8" cy="77.4" r="0.41"/><circle cx="39.0" cy="70.7" r="0.44"/><circle cx="43.6" cy="64.8" r="0.26"/><circle cx="40.8" cy="79.4" r="0.45"/><circle cx="46.0" cy="55.4" r="0.40"/><circle cx="43.8" cy="69.8" r="0.33"/><circle cx="52.0" cy="67.1" r="0.26"/><circle cx="38.0" cy="77.3" r="0.29"/><circle cx="41.5" cy="71.4" r="0.31"/><circle cx="42.2" cy="72.0" r="0.23"/><circle cx="49.8" cy="69.4" r="0.43"/><circle cx="38.1" cy="61.2" r="0.42"/><circle cx="43.8" cy="70.6" r="0.36"/><circle cx="42.4" cy="84.0" r="0.27"/><circle cx="34.2" cy="67.2" r="0.36"/><circle cx="43.0" cy="81.7" r="0.31"/><circle cx="46.1" cy="70.0" r="0.28"/><circle cx="41.8" cy="68.8" r="0.35"/><circle cx="47.6" cy="69.4" r="0.27"/><circle cx="38.2" cy="74.1" r="0.24"/><circle cx="44.5" cy="75.0" r="0.27"/><circle cx="40.3" cy="75.7" r="0.26"/><circle cx="47.3" cy="77.3" r="0.41"/><circle cx="39.0" cy="65.4" r="0.36"/><circle cx="44.9" cy="84.0" r="0.32"/><circle cx="37.7" cy="68.7" r="0.32"/><circle cx="41.9" cy="77.5" r="0.26"/><circle cx="39.1" cy="71.4" r="0.35"/><circle cx="46.7" cy="72.6" r="0.42"/><circle cx="43.4" cy="82.2" r="0.32"/><circle cx="40.4" cy="95.1" r="0.27"/><circle cx="43.3" cy="67.3" r="0.22"/><circle cx="46.0" cy="65.8" r="0.22"/><circle cx="39.7" cy="77.6" r="0.38"/><circle cx="45.2" cy="75.6" r="0.44"/><circle cx="42.8" cy="67.4" r="0.28"/><circle cx="39.4" cy="81.6" r="0.35"/><circle cx="47.4" cy="60.0" r="0.33"/><circle cx="42.5" cy="58.8" r="0.39"/><circle cx="36.1" cy="74.2" r="0.38"/><circle cx="44.8" cy="69.9" r="0.42"/><circle cx="49.8" cy="72.4" r="0.35"/><circle cx="32.7" cy="72.3" r="0.34"/><circle cx="36.9" cy="78.9" r="0.42"/><circle cx="39.9" cy="67.1" r="0.31"/><circle cx="36.8" cy="75.4" r="0.27"/><circle cx="39.1" cy="78.5" r="0.30"/><circle cx="39.9" cy="84.7" r="0.41"/><circle cx="38.7" cy="72.0" r="0.25"/><circle cx="42.3" cy="76.2" r="0.34"/><circle cx="41.5" cy="70.3" r="0.43"/><circle cx="39.6" cy="85.8" r="0.41"/><circle cx="45.6" cy="70.6" r="0.31"/><circle cx="43.5" cy="71.4" r="0.21"/><circle cx="38.7" cy="68.3" r="0.43"/><circle cx="43.7" cy="62.2" r="0.45"/><circle cx="38.2" cy="70.9" r="0.37"/><circle cx="40.1" cy="76.8" r="0.35"/><circle cx="37.2" cy="87.7" r="0.37"/><circle cx="41.2" cy="71.4" r="0.29"/><circle cx="38.8" cy="78.0" r="0.34"/><circle cx="50.5" cy="57.8" r="0.32"/><circle cx="37.8" cy="76.1" r="0.45"/><circle cx="40.3" cy="80.2" r="0.40"/><circle cx="44.7" cy="78.1" r="0.44"/><circle cx="45.2" cy="63.5" r="0.23"/><circle cx="47.8" cy="64.5" r="0.41"/><circle cx="51.4" cy="71.0" r="0.31"/><circle cx="44.8" cy="77.5" r="0.33"/><circle cx="40.4" cy="71.8" r="0.25"/><circle cx="39.3" cy="64.1" r="0.29"/><circle cx="48.7" cy="71.6" r="0.21"/><circle cx="37.0" cy="79.4" r="0.28"/><circle cx="42.9" cy="71.3" r="0.28"/><circle cx="45.9" cy="63.1" r="0.37"/><circle cx="44.5" cy="80.9" r="0.34"/><circle cx="42.4" cy="83.5" r="0.33"/><circle cx="48.2" cy="71.8" r="0.30"/><circle cx="44.7" cy="75.2" r="0.39"/><circle cx="44.4" cy="74.3" r="0.24"/><circle cx="35.6" cy="69.9" r="0.35"/><circle cx="43.5" cy="69.3" r="0.20"/><circle cx="43.5" cy="65.0" r="0.38"/><circle cx="41.5" cy="75.9" r="0.27"/><circle cx="50.0" cy="82.1" r="0.35"/><circle cx="40.5" cy="79.1" r="0.30"/></g>
<g filter="url(#b2)"><path d="M42,64 L58,52.5 L72.5,48.5 L69,66 L65,88.5 L50,88 L42,81 Z" fill="#5a5aff" opacity="0.5"/></g>
<g filter="url(#b1)"><path d="M44,63 L58,55 L71.3,50.5 L68,67 L64.2,87 L52,86 L44,79 Z" fill="#1c1cff"/></g>
<g filter="url(#b05)"><path d="M61,57.8 Q68.3,58.2 68.2,64 L67.8,73 Q67.3,79.2 61,79.2 Q54.2,79.2 53.8,74 Q53.8,70.5 57.6,68 Q53.8,65.5 54.1,62.5 Q54.8,57.8 61,57.8 Z" fill="#30d0f0"/></g>
<g filter="url(#b05)"><path d="M61,59.2 Q67,59.5 66.9,64.2 L66.6,72.8 Q66.2,77.8 61,77.8 Q55.6,77.8 55.3,73.8 Q55.3,71 59.2,68 Q55.3,65.3 55.5,62.8 Q56.1,59.2 61,59.2 Z" fill="#5ee05a"/></g>
<g filter="url(#b05)"><ellipse cx="61.9" cy="64.9" rx="2.9" ry="2.7" fill="#f4e23a"/><ellipse cx="60.7" cy="72.7" rx="2.6" ry="2.4" fill="#d9ec50"/><ellipse cx="60.7" cy="72.7" rx="1.4" ry="1.3" fill="#f3c840"/></g>
<g filter="url(#b05)"><ellipse cx="61.9" cy="64.9" rx="1.8" ry="1.7" fill="#e0200e"/></g>
<g fill="#4a4aff" opacity="0.45"><circle cx="82.9" cy="49.0" r="0.37"/><circle cx="79.6" cy="42.1" r="0.37"/><circle cx="76.0" cy="46.1" r="0.44"/><circle cx="77.9" cy="39.2" r="0.43"/><circle cx="77.2" cy="38.5" r="0.37"/><circle cx="80.0" cy="42.0" r="0.44"/><circle cx="76.2" cy="51.0" r="0.39"/><circle cx="76.5" cy="49.9" r="0.43"/><circle cx="69.8" cy="45.2" r="0.30"/><circle cx="77.5" cy="49.8" r="0.29"/><circle cx="78.9" cy="43.0" r="0.36"/><circle cx="79.2" cy="49.7" r="0.33"/><circle cx="74.9" cy="45.5" r="0.27"/><circle cx="77.5" cy="38.2" r="0.30"/><circle cx="77.0" cy="49.3" r="0.30"/><circle cx="81.0" cy="46.3" r="0.32"/><circle cx="79.1" cy="53.1" r="0.27"/><circle cx="75.2" cy="57.2" r="0.28"/><circle cx="69.8" cy="48.6" r="0.41"/><circle cx="77.8" cy="49.5" r="0.39"/><circle cx="69.7" cy="56.3" r="0.29"/><circle cx="80.0" cy="41.5" r="0.30"/><circle cx="74.2" cy="45.1" r="0.39"/><circle cx="75.5" cy="59.0" r="0.37"/><circle cx="74.2" cy="47.9" r="0.37"/><circle cx="77.7" cy="57.8" r="0.27"/><circle cx="71.6" cy="43.3" r="0.30"/><circle cx="76.5" cy="37.2" r="0.38"/><circle cx="73.2" cy="41.5" r="0.33"/><circle cx="77.9" cy="46.2" r="0.42"/><circle cx="73.8" cy="53.3" r="0.27"/><circle cx="72.9" cy="41.5" r="0.35"/><circle cx="75.6" cy="46.5" r="0.31"/><circle cx="76.3" cy="47.6" r="0.39"/><circle cx="75.3" cy="51.0" r="0.43"/><circle cx="77.1" cy="29.7" r="0.42"/><circle cx="77.9" cy="48.2" r="0.26"/><circle cx="73.8" cy="34.7" r="0.32"/><circle cx="71.6" cy="49.4" r="0.39"/><circle cx="76.1" cy="57.6" r="0.32"/><circle cx="74.5" cy="40.8" r="0.27"/><circle cx="80.9" cy="38.1" r="0.39"/><circle cx="77.0" cy="44.5" r="0.28"/><circle cx="77.0" cy="49.6" r="0.33"/><circle cx="78.9" cy="45.5" r="0.38"/><circle cx="78.9" cy="56.1" r="0.36"/><circle cx="75.4" cy="38.8" r="0.34"/><circle cx="74.7" cy="38.1" r="0.25"/><circle cx="79.1" cy="33.5" r="0.31"/><circle cx="82.6" cy="47.7" r="0.37"/><circle cx="78.5" cy="45.5" r="0.27"/><circle cx="76.6" cy="39.4" r="0.43"/><circle cx="76.0" cy="41.0" r="0.39"/><circle cx="71.4" cy="51.2" r="0.42"/><circle cx="75.7" cy="47.0" r="0.44"/><circle cx="68.8" cy="51.4" r="0.39"/><circle cx="75.5" cy="30.9" r="0.38"/><circle cx="74.9" cy="44.7" r="0.39"/><circle cx="72.2" cy="47.6" r="0.44"/><circle cx="80.1" cy="52.5" r="0.26"/><circle cx="74.1" cy="31.9" r="0.30"/><circle cx="67.1" cy="38.7" r="0.38"/><circle cx="73.4" cy="42.6" r="0.26"/><circle cx="73.7" cy="49.6" r="0.29"/><circle cx="75.3" cy="47.5" r="0.39"/><circle cx="74.8" cy="39.5" r="0.30"/><circle cx="72.2" cy="43.3" r="0.44"/><circle cx="74.2" cy="48.7" r="0.43"/><circle cx="78.8" cy="51.0" r="0.32"/><circle cx="77.8" cy="35.9" r="0.40"/></g>
<g filter="url(#b05)"><ellipse cx="72.3" cy="35.6" rx="1.8" ry="3.0" transform="rotate(15 72.3 35.6)" fill="#4a4af0" opacity="0.7"/><ellipse cx="78.7" cy="43.9" rx="2.4" ry="2.9" fill="#2a2aff" opacity="0.85"/><ellipse cx="80.3" cy="52.2" rx="1.5" ry="3.4" transform="rotate(10 80.3 52.2)" fill="#4a4af5" opacity="0.65"/></g>
<g fill="#2a2aff" opacity="0.6"><circle cx="73.2" cy="38.4" r="0.37"/><circle cx="70.1" cy="36.5" r="0.42"/><circle cx="73.1" cy="36.8" r="0.32"/><circle cx="72.4" cy="36.3" r="0.31"/><circle cx="73.0" cy="38.8" r="0.34"/><circle cx="73.2" cy="36.9" r="0.34"/><circle cx="71.8" cy="36.6" r="0.26"/><circle cx="76.3" cy="36.1" r="0.40"/><circle cx="74.1" cy="37.4" r="0.45"/><circle cx="71.7" cy="35.2" r="0.35"/><circle cx="71.5" cy="36.2" r="0.36"/><circle cx="75.2" cy="35.9" r="0.38"/><circle cx="70.2" cy="31.9" r="0.38"/><circle cx="72.3" cy="37.3" r="0.28"/><circle cx="74.5" cy="36.3" r="0.42"/><circle cx="72.1" cy="37.0" r="0.38"/><circle cx="74.0" cy="31.5" r="0.28"/><circle cx="72.8" cy="31.6" r="0.40"/><circle cx="71.9" cy="36.8" r="0.42"/><circle cx="71.8" cy="37.5" r="0.36"/><circle cx="70.6" cy="38.6" r="0.30"/><circle cx="73.9" cy="36.3" r="0.38"/><circle cx="73.2" cy="32.5" r="0.43"/><circle cx="73.7" cy="34.7" r="0.35"/><circle cx="72.9" cy="37.2" r="0.37"/><circle cx="74.0" cy="37.2" r="0.28"/><circle cx="69.1" cy="37.6" r="0.27"/><circle cx="73.7" cy="36.2" r="0.29"/><circle cx="72.3" cy="35.4" r="0.42"/><circle cx="73.7" cy="32.5" r="0.34"/></g>
<g fill="#2a2aff" opacity="0.6"><circle cx="78.2" cy="46.9" r="0.35"/><circle cx="77.3" cy="44.9" r="0.34"/><circle cx="77.0" cy="40.8" r="0.43"/><circle cx="79.5" cy="45.4" r="0.34"/><circle cx="77.2" cy="43.3" r="0.29"/><circle cx="80.1" cy="44.9" r="0.34"/><circle cx="82.6" cy="43.2" r="0.42"/><circle cx="83.2" cy="43.2" r="0.37"/><circle cx="78.9" cy="43.3" r="0.39"/><circle cx="77.5" cy="42.9" r="0.36"/><circle cx="80.7" cy="43.3" r="0.38"/><circle cx="78.2" cy="45.7" r="0.43"/><circle cx="79.8" cy="44.2" r="0.39"/><circle cx="78.0" cy="44.3" r="0.38"/><circle cx="77.1" cy="45.9" r="0.33"/><circle cx="76.4" cy="43.5" r="0.33"/><circle cx="79.6" cy="44.8" r="0.43"/><circle cx="77.9" cy="43.7" r="0.42"/><circle cx="78.7" cy="44.9" r="0.36"/><circle cx="78.7" cy="46.3" r="0.36"/><circle cx="79.0" cy="46.6" r="0.27"/><circle cx="76.3" cy="43.8" r="0.27"/><circle cx="78.1" cy="44.4" r="0.34"/><circle cx="80.2" cy="42.1" r="0.39"/><circle cx="78.7" cy="43.0" r="0.45"/><circle cx="78.6" cy="43.1" r="0.42"/><circle cx="77.8" cy="44.8" r="0.44"/><circle cx="75.8" cy="42.7" r="0.28"/><circle cx="78.8" cy="43.3" r="0.30"/><circle cx="78.5" cy="44.3" r="0.37"/><circle cx="79.0" cy="45.6" r="0.39"/><circle cx="75.3" cy="45.9" r="0.37"/><circle cx="80.3" cy="42.1" r="0.43"/><circle cx="79.5" cy="43.1" r="0.40"/><circle cx="77.0" cy="46.9" r="0.39"/><circle cx="79.1" cy="43.1" r="0.32"/><circle cx="78.3" cy="39.2" r="0.39"/><circle cx="81.1" cy="44.7" r="0.27"/><circle cx="75.6" cy="42.9" r="0.27"/><circle cx="81.1" cy="42.6" r="0.30"/></g>
<g fill="#2a2aff" opacity="0.6"><circle cx="80.8" cy="54.9" r="0.42"/><circle cx="79.8" cy="51.6" r="0.25"/><circle cx="82.0" cy="55.2" r="0.29"/><circle cx="79.4" cy="51.5" r="0.39"/><circle cx="79.8" cy="53.2" r="0.43"/><circle cx="78.5" cy="51.2" r="0.41"/><circle cx="80.5" cy="52.1" r="0.32"/><circle cx="81.1" cy="54.7" r="0.42"/><circle cx="80.4" cy="51.5" r="0.29"/><circle cx="81.1" cy="48.6" r="0.33"/><circle cx="79.6" cy="52.4" r="0.42"/><circle cx="78.4" cy="55.5" r="0.37"/><circle cx="81.3" cy="53.3" r="0.29"/><circle cx="81.6" cy="50.1" r="0.26"/><circle cx="80.8" cy="54.4" r="0.34"/><circle cx="79.2" cy="51.0" r="0.32"/><circle cx="81.9" cy="52.3" r="0.32"/><circle cx="81.6" cy="52.6" r="0.45"/><circle cx="80.9" cy="52.6" r="0.38"/><circle cx="80.2" cy="54.3" r="0.35"/><circle cx="80.2" cy="55.6" r="0.36"/><circle cx="83.9" cy="50.0" r="0.26"/><circle cx="78.4" cy="50.5" r="0.42"/><circle cx="80.6" cy="48.6" r="0.38"/><circle cx="79.7" cy="53.8" r="0.41"/><circle cx="82.3" cy="47.8" r="0.39"/><circle cx="79.6" cy="56.4" r="0.40"/><circle cx="78.6" cy="52.0" r="0.32"/><circle cx="79.1" cy="51.4" r="0.26"/><circle cx="79.7" cy="54.2" r="0.45"/></g>
</g>
<path d="M66.8,25.5 Q66.8,22.2 70.5,22.2 L83,22.2 Q87,22.2 89,27.5 Q91.4,33 91.4,40 L91.6,77 Q91.6,81.2 87.5,81.2 L78.5,81.2 Q74.6,81.2 74.6,77 L74.6,49 Q74.6,45.8 71,45.8 Q66.8,45.8 66.8,42 Z" fill="none" stroke="#444" stroke-width="0.7"/>
<rect x="78.3" y="27.6" width="21.90" height="5.80" fill="#fff"/>
<rect x="82.4" y="35.6" width="13.20" height="6.20" fill="#fff"/>
<text x="78.8" y="32.9" font-size="7.0" text-anchor="start" fill="#222" textLength="20.3" lengthAdjust="spacingAndGlyphs" >CD45+</text>
<text x="82.8" y="40.9" font-size="7.0" text-anchor="start" fill="#222" textLength="12.2" lengthAdjust="spacingAndGlyphs" >0.99</text>
<line x1="89.2" y1="45.5" x2="113" y2="45.5" stroke="#000" stroke-width="0.9"/>
<path d="M112.5,43.2 L118,45.2 L112.5,47.2 Z" fill="#000"/>
<line x1="91.5" y1="41.8" x2="91.5" y2="45.2" stroke="#000" stroke-width="0.7"/>
<text x="68.7" y="103.5" font-size="8.6" text-anchor="middle" fill="#111" stroke="#111" stroke-width="0.4" textLength="35.5" lengthAdjust="spacingAndGlyphs" >PerCP-CD45</text>
<text x="0" y="0" font-size="8.8" fill="#111" stroke="#111" stroke-width="0.4" text-anchor="middle" textLength="10.8" lengthAdjust="spacingAndGlyphs" transform="translate(23.1,65.8) rotate(-90)">SSC</text>
<line x1="28.5" y1="90" x2="28.5" y2="47" stroke="#000" stroke-width="0.8"/>
<path d="M26.9,48 L28.7,43.3 L30.5,48 Z" fill="#000"/>
<rect x="110.5" y="19.7" width="69.80" height="69.30" fill="none" stroke="#000" stroke-width="1.15"/>
<path d="M108.50,89.00h2.0 M109.30,84.83h1.2 M109.30,82.39h1.2 M109.30,80.66h1.2 M109.30,79.31h1.2 M109.30,78.21h1.2 M109.30,77.29h1.2 M109.30,76.48h1.2 M109.30,75.77h1.2 M108.50,75.14h2.0 M109.30,70.97h1.2 M109.30,68.53h1.2 M109.30,66.80h1.2 M109.30,65.45h1.2 M109.30,64.35h1.2 M109.30,63.43h1.2 M109.30,62.62h1.2 M109.30,61.91h1.2 M108.50,61.28h2.0 M109.30,57.11h1.2 M109.30,54.67h1.2 M109.30,52.94h1.2 M109.30,51.59h1.2 M109.30,50.49h1.2 M109.30,49.57h1.2 M109.30,48.76h1.2 M109.30,48.05h1.2 M108.50,47.42h2.0 M109.30,43.25h1.2 M109.30,40.81h1.2 M109.30,39.08h1.2 M109.30,37.73h1.2 M109.30,36.63h1.2 M109.30,35.71h1.2 M109.30,34.90h1.2 M109.30,34.19h1.2 M108.50,33.56h2.0 M109.30,29.39h1.2 M109.30,26.95h1.2 M109.30,25.22h1.2 M109.30,23.87h1.2 M109.30,22.77h1.2 M109.30,21.85h1.2 M109.30,21.04h1.2 M109.30,20.33h1.2 M110.50,89.0v2.0 M114.70,89.0v1.2 M117.16,89.0v1.2 M118.90,89.0v1.2 M120.26,89.0v1.2 M121.36,89.0v1.2 M122.30,89.0v1.2 M123.11,89.0v1.2 M123.82,89.0v1.2 M124.46,89.0v2.0 M128.66,89.0v1.2 M131.12,89.0v1.2 M132.86,89.0v1.2 M134.22,89.0v1.2 M135.32,89.0v1.2 M136.26,89.0v1.2 M137.07,89.0v1.2 M137.78,89.0v1.2 M138.42,89.0v2.0 M142.62,89.0v1.2 M145.08,89.0v1.2 M146.82,89.0v1.2 M148.18,89.0v1.2 M149.28,89.0v1.2 M150.22,89.0v1.2 M151.03,89.0v1.2 M151.74,89.0v1.2 M152.38,89.0v2.0 M156.58,89.0v1.2 M159.04,89.0v1.2 M160.78,89.0v1.2 M162.14,89.0v1.2 M163.24,89.0v1.2 M164.18,89.0v1.2 M164.99,89.0v1.2 M165.70,89.0v1.2 M166.34,89.0v2.0 M170.54,89.0v1.2 M173.00,89.0v1.2 M174.74,89.0v1.2 M176.10,89.0v1.2 M177.20,89.0v1.2 M178.14,89.0v1.2 M178.95,89.0v1.2 M179.66,89.0v1.2" stroke="#000" stroke-width="0.85" fill="none"/>
<g fill="#5060ff" opacity="0.5"><circle cx="134.9" cy="51.9" r="0.30"/><circle cx="138.8" cy="54.5" r="0.28"/><circle cx="146.2" cy="51.8" r="0.34"/><circle cx="133.9" cy="52.9" r="0.31"/><circle cx="139.2" cy="52.5" r="0.31"/><circle cx="136.3" cy="56.3" r="0.36"/><circle cx="141.7" cy="50.4" r="0.43"/><circle cx="137.2" cy="50.8" r="0.29"/><circle cx="128.7" cy="46.9" r="0.32"/><circle cx="139.1" cy="48.2" r="0.42"/><circle cx="142.5" cy="53.0" r="0.43"/><circle cx="138.0" cy="53.9" r="0.25"/><circle cx="140.0" cy="53.7" r="0.39"/><circle cx="139.3" cy="54.7" r="0.29"/><circle cx="132.4" cy="47.6" r="0.38"/><circle cx="140.5" cy="56.4" r="0.44"/><circle cx="137.3" cy="50.7" r="0.41"/><circle cx="141.0" cy="49.4" r="0.28"/><circle cx="140.3" cy="55.2" r="0.43"/><circle cx="133.0" cy="45.9" r="0.29"/><circle cx="135.6" cy="56.2" r="0.38"/><circle cx="133.8" cy="54.2" r="0.32"/><circle cx="142.2" cy="52.7" r="0.26"/><circle cx="136.1" cy="49.4" r="0.35"/><circle cx="136.1" cy="50.1" r="0.34"/><circle cx="147.1" cy="52.1" r="0.36"/><circle cx="139.8" cy="51.4" r="0.37"/><circle cx="138.0" cy="48.7" r="0.27"/><circle cx="139.7" cy="53.0" r="0.40"/><circle cx="144.4" cy="54.6" r="0.33"/><circle cx="133.6" cy="50.5" r="0.36"/><circle cx="135.7" cy="47.9" r="0.32"/><circle cx="138.3" cy="49.0" r="0.39"/><circle cx="139.0" cy="46.0" r="0.31"/><circle cx="140.0" cy="42.8" r="0.34"/><circle cx="137.7" cy="55.3" r="0.44"/><circle cx="138.8" cy="51.8" r="0.35"/><circle cx="134.8" cy="46.9" r="0.32"/><circle cx="141.2" cy="51.3" r="0.40"/><circle cx="139.3" cy="51.9" r="0.28"/><circle cx="142.7" cy="52.9" r="0.36"/><circle cx="142.2" cy="58.4" r="0.32"/><circle cx="139.9" cy="53.1" r="0.40"/><circle cx="140.5" cy="50.6" r="0.26"/><circle cx="139.0" cy="49.2" r="0.45"/><circle cx="133.1" cy="51.5" r="0.32"/><circle cx="139.8" cy="48.1" r="0.31"/><circle cx="140.0" cy="50.6" r="0.40"/><circle cx="143.5" cy="53.3" r="0.33"/><circle cx="139.4" cy="50.7" r="0.36"/><circle cx="131.3" cy="55.3" r="0.44"/><circle cx="136.6" cy="49.9" r="0.30"/><circle cx="138.2" cy="54.9" r="0.30"/><circle cx="140.4" cy="56.7" r="0.38"/><circle cx="134.8" cy="61.3" r="0.29"/><circle cx="136.5" cy="50.7" r="0.42"/><circle cx="140.5" cy="49.7" r="0.40"/><circle cx="139.9" cy="49.2" r="0.32"/><circle cx="130.5" cy="52.1" r="0.28"/><circle cx="136.4" cy="47.6" r="0.34"/><circle cx="131.6" cy="48.3" r="0.29"/><circle cx="141.2" cy="49.5" r="0.41"/><circle cx="140.1" cy="50.0" r="0.42"/><circle cx="141.7" cy="51.4" r="0.25"/><circle cx="146.4" cy="57.1" r="0.25"/><circle cx="140.3" cy="50.5" r="0.40"/><circle cx="140.4" cy="52.6" r="0.39"/><circle cx="141.4" cy="53.1" r="0.43"/><circle cx="136.9" cy="45.0" r="0.45"/><circle cx="141.2" cy="52.0" r="0.41"/><circle cx="138.1" cy="50.7" r="0.35"/><circle cx="139.0" cy="54.9" r="0.27"/><circle cx="150.0" cy="52.7" r="0.31"/><circle cx="139.9" cy="50.4" r="0.35"/><circle cx="141.1" cy="54.1" r="0.29"/><circle cx="137.7" cy="49.8" r="0.40"/><circle cx="136.6" cy="51.5" r="0.32"/><circle cx="130.0" cy="51.7" r="0.32"/><circle cx="140.7" cy="59.7" r="0.43"/><circle cx="138.1" cy="49.0" r="0.29"/><circle cx="138.4" cy="52.7" r="0.26"/><circle cx="134.6" cy="51.3" r="0.36"/><circle cx="138.1" cy="51.9" r="0.39"/><circle cx="135.8" cy="48.2" r="0.36"/><circle cx="134.5" cy="43.0" r="0.42"/><circle cx="137.7" cy="48.3" r="0.31"/><circle cx="129.6" cy="55.7" r="0.33"/><circle cx="135.6" cy="53.7" r="0.28"/><circle cx="138.9" cy="51.5" r="0.37"/><circle cx="141.1" cy="50.4" r="0.37"/><circle cx="136.5" cy="53.2" r="0.29"/><circle cx="144.0" cy="55.6" r="0.41"/><circle cx="139.5" cy="50.9" r="0.39"/><circle cx="136.0" cy="55.6" r="0.36"/><circle cx="134.4" cy="59.3" r="0.25"/><circle cx="138.3" cy="45.2" r="0.35"/><circle cx="128.2" cy="45.8" r="0.30"/><circle cx="134.2" cy="47.7" r="0.33"/><circle cx="137.6" cy="48.4" r="0.36"/><circle cx="134.2" cy="48.4" r="0.31"/><circle cx="135.2" cy="48.6" r="0.29"/><circle cx="136.2" cy="49.9" r="0.43"/><circle cx="132.5" cy="52.4" r="0.35"/><circle cx="135.8" cy="51.8" r="0.28"/><circle cx="142.7" cy="49.8" r="0.35"/><circle cx="131.6" cy="50.5" r="0.30"/><circle cx="141.8" cy="56.8" r="0.34"/><circle cx="134.0" cy="46.9" r="0.43"/><circle cx="139.3" cy="50.8" r="0.33"/><circle cx="142.0" cy="46.4" r="0.27"/><circle cx="140.1" cy="53.5" r="0.27"/><circle cx="134.2" cy="56.0" r="0.35"/><circle cx="136.9" cy="51.9" r="0.33"/><circle cx="144.4" cy="51.4" r="0.34"/><circle cx="131.8" cy="52.3" r="0.40"/><circle cx="141.9" cy="55.4" r="0.32"/><circle cx="135.7" cy="51.2" r="0.32"/><circle cx="136.5" cy="54.1" r="0.25"/><circle cx="140.0" cy="55.5" r="0.26"/><circle cx="141.1" cy="56.1" r="0.30"/><circle cx="137.2" cy="53.6" r="0.42"/><circle cx="143.0" cy="54.0" r="0.42"/><circle cx="139.7" cy="54.7" r="0.41"/><circle cx="135.8" cy="49.4" r="0.26"/><circle cx="135.1" cy="52.6" r="0.39"/><circle cx="137.4" cy="54.6" r="0.38"/><circle cx="139.8" cy="48.7" r="0.33"/><circle cx="130.9" cy="48.0" r="0.29"/><circle cx="144.4" cy="50.6" r="0.32"/><circle cx="136.8" cy="49.0" r="0.26"/></g>
<g fill="#3a4aff" opacity="0.55"><circle cx="146.1" cy="32.9" r="0.36"/><circle cx="141.3" cy="35.1" r="0.40"/><circle cx="148.9" cy="35.5" r="0.34"/><circle cx="141.9" cy="36.0" r="0.33"/><circle cx="141.4" cy="35.8" r="0.34"/><circle cx="143.4" cy="35.1" r="0.41"/><circle cx="144.3" cy="31.8" r="0.33"/><circle cx="149.2" cy="35.8" r="0.36"/><circle cx="146.5" cy="31.3" r="0.27"/><circle cx="146.2" cy="35.9" r="0.41"/><circle cx="146.8" cy="35.6" r="0.40"/><circle cx="145.3" cy="34.7" r="0.39"/><circle cx="145.4" cy="32.5" r="0.26"/><circle cx="145.2" cy="32.9" r="0.37"/><circle cx="150.1" cy="35.0" r="0.42"/><circle cx="147.2" cy="36.6" r="0.35"/><circle cx="152.6" cy="35.2" r="0.30"/><circle cx="145.9" cy="36.9" r="0.30"/><circle cx="147.8" cy="32.8" r="0.35"/><circle cx="145.4" cy="35.3" r="0.31"/><circle cx="148.7" cy="32.1" r="0.42"/><circle cx="145.9" cy="36.5" r="0.26"/><circle cx="143.9" cy="34.5" r="0.34"/><circle cx="143.1" cy="35.2" r="0.32"/><circle cx="146.5" cy="33.6" r="0.43"/><circle cx="145.3" cy="34.8" r="0.31"/><circle cx="143.8" cy="34.5" r="0.36"/><circle cx="145.2" cy="36.6" r="0.41"/><circle cx="145.1" cy="38.3" r="0.41"/><circle cx="144.0" cy="33.7" r="0.44"/><circle cx="141.8" cy="36.5" r="0.26"/><circle cx="143.1" cy="36.3" r="0.26"/><circle cx="146.6" cy="34.4" r="0.37"/><circle cx="148.1" cy="39.5" r="0.36"/><circle cx="146.8" cy="32.5" r="0.38"/><circle cx="145.2" cy="33.4" r="0.29"/><circle cx="146.7" cy="34.0" r="0.43"/><circle cx="146.3" cy="36.0" r="0.27"/><circle cx="147.2" cy="29.7" r="0.33"/><circle cx="145.1" cy="33.6" r="0.43"/><circle cx="145.5" cy="33.8" r="0.26"/><circle cx="145.8" cy="34.4" r="0.42"/><circle cx="145.6" cy="36.5" r="0.37"/><circle cx="144.8" cy="37.6" r="0.28"/><circle cx="147.7" cy="34.0" r="0.42"/><circle cx="148.3" cy="38.2" r="0.45"/><circle cx="145.6" cy="35.4" r="0.33"/><circle cx="145.0" cy="33.8" r="0.36"/><circle cx="148.0" cy="36.4" r="0.40"/><circle cx="143.0" cy="36.4" r="0.27"/><circle cx="146.5" cy="34.0" r="0.43"/><circle cx="151.2" cy="34.9" r="0.36"/><circle cx="145.5" cy="37.0" r="0.40"/><circle cx="140.9" cy="35.1" r="0.27"/><circle cx="141.6" cy="35.4" r="0.37"/><circle cx="145.1" cy="34.8" r="0.28"/><circle cx="145.4" cy="39.6" r="0.42"/><circle cx="146.7" cy="40.0" r="0.26"/><circle cx="141.3" cy="31.7" r="0.32"/><circle cx="149.0" cy="33.9" r="0.26"/></g>
<g fill="#3a4aff" opacity="0.55"><circle cx="150.6" cy="45.8" r="0.30"/><circle cx="151.9" cy="42.0" r="0.41"/><circle cx="151.7" cy="44.4" r="0.36"/><circle cx="154.7" cy="45.2" r="0.41"/><circle cx="149.6" cy="42.0" r="0.26"/><circle cx="150.8" cy="43.4" r="0.38"/><circle cx="154.3" cy="45.8" r="0.32"/><circle cx="149.3" cy="46.0" r="0.28"/><circle cx="155.0" cy="48.5" r="0.32"/><circle cx="154.9" cy="39.4" r="0.35"/><circle cx="152.7" cy="44.4" r="0.43"/><circle cx="154.3" cy="45.4" r="0.36"/><circle cx="154.2" cy="45.3" r="0.28"/><circle cx="149.0" cy="42.9" r="0.32"/><circle cx="152.9" cy="45.8" r="0.29"/><circle cx="153.3" cy="44.8" r="0.42"/><circle cx="146.5" cy="43.4" r="0.25"/><circle cx="154.8" cy="42.5" r="0.41"/><circle cx="148.4" cy="41.9" r="0.30"/><circle cx="152.0" cy="42.1" r="0.30"/><circle cx="154.6" cy="44.0" r="0.35"/><circle cx="150.6" cy="48.4" r="0.27"/><circle cx="150.3" cy="42.7" r="0.37"/><circle cx="152.9" cy="39.8" r="0.26"/><circle cx="152.1" cy="46.7" r="0.45"/><circle cx="155.5" cy="44.4" r="0.39"/><circle cx="152.9" cy="41.5" r="0.41"/><circle cx="146.3" cy="44.8" r="0.25"/><circle cx="154.5" cy="42.6" r="0.33"/><circle cx="153.7" cy="44.4" r="0.40"/><circle cx="151.4" cy="42.3" r="0.32"/><circle cx="153.1" cy="44.7" r="0.29"/><circle cx="148.5" cy="49.2" r="0.45"/><circle cx="152.8" cy="40.8" r="0.35"/><circle cx="153.0" cy="38.3" r="0.40"/><circle cx="150.9" cy="42.3" r="0.38"/><circle cx="154.6" cy="40.0" r="0.27"/><circle cx="151.5" cy="41.3" r="0.28"/><circle cx="155.8" cy="42.7" r="0.40"/><circle cx="155.2" cy="46.9" r="0.44"/><circle cx="155.6" cy="41.3" r="0.42"/><circle cx="153.1" cy="40.5" r="0.34"/><circle cx="154.1" cy="39.8" r="0.42"/><circle cx="150.0" cy="49.3" r="0.36"/><circle cx="153.2" cy="43.1" r="0.44"/><circle cx="152.5" cy="41.7" r="0.42"/><circle cx="152.2" cy="45.1" r="0.34"/><circle cx="152.3" cy="46.3" r="0.43"/><circle cx="150.4" cy="40.0" r="0.33"/><circle cx="153.0" cy="39.3" r="0.39"/><circle cx="156.5" cy="41.9" r="0.33"/><circle cx="155.2" cy="45.3" r="0.42"/><circle cx="150.1" cy="46.2" r="0.42"/><circle cx="152.1" cy="43.3" r="0.35"/><circle cx="153.3" cy="43.6" r="0.41"/><circle cx="148.9" cy="45.1" r="0.34"/><circle cx="151.1" cy="44.9" r="0.32"/><circle cx="154.0" cy="40.7" r="0.31"/><circle cx="153.8" cy="44.5" r="0.39"/><circle cx="148.4" cy="44.8" r="0.41"/><circle cx="154.9" cy="46.0" r="0.26"/><circle cx="152.7" cy="42.1" r="0.30"/><circle cx="154.4" cy="42.9" r="0.29"/><circle cx="154.7" cy="41.4" r="0.43"/><circle cx="149.6" cy="45.2" r="0.44"/><circle cx="144.2" cy="43.2" r="0.29"/><circle cx="152.8" cy="42.3" r="0.36"/><circle cx="153.6" cy="43.5" r="0.44"/><circle cx="147.5" cy="44.7" r="0.30"/><circle cx="151.3" cy="44.4" r="0.36"/><circle cx="154.0" cy="41.3" r="0.33"/><circle cx="157.0" cy="41.3" r="0.38"/><circle cx="155.2" cy="45.0" r="0.34"/><circle cx="154.4" cy="42.9" r="0.38"/><circle cx="150.3" cy="41.8" r="0.35"/><circle cx="149.5" cy="38.8" r="0.35"/><circle cx="147.3" cy="48.5" r="0.26"/><circle cx="154.0" cy="40.4" r="0.36"/><circle cx="147.9" cy="44.8" r="0.43"/><circle cx="151.4" cy="39.5" r="0.26"/><circle cx="151.4" cy="44.7" r="0.44"/><circle cx="153.1" cy="42.7" r="0.37"/><circle cx="151.3" cy="43.2" r="0.33"/><circle cx="151.9" cy="40.1" r="0.31"/><circle cx="152.2" cy="41.5" r="0.36"/><circle cx="145.7" cy="46.7" r="0.38"/><circle cx="153.3" cy="40.1" r="0.33"/><circle cx="156.0" cy="42.6" r="0.39"/><circle cx="151.7" cy="44.9" r="0.37"/><circle cx="154.1" cy="39.7" r="0.32"/></g>
<g filter="url(#b1)"><ellipse cx="146" cy="35" rx="2.8" ry="2.6" fill="#5a6aee" opacity="0.6"/><ellipse cx="152" cy="43.5" rx="3.4" ry="3" fill="#4a60e0" opacity="0.7"/><ellipse cx="139" cy="51.5" rx="4" ry="3" fill="#98a0f4" opacity="0.5"/></g>
<g filter="url(#b05)"><circle cx="152.2" cy="43.5" r="2.1" fill="#30a8a0"/><circle cx="152.4" cy="43.5" r="1.3" fill="#c8c030"/><circle cx="152.6" cy="43.6" r="0.6" fill="#d03810"/></g>
<path d="M139.8,24 Q139.8,22.3 141.5,22.3 L164.5,22.3 Q166.2,22.3 166.2,24 L166.2,61 Q166.2,62.7 164.5,62.7 L147.7,62.7" fill="none" stroke="#555" stroke-width="0.75"/>
<path d="M139.8,24 L139.8,41.4" fill="none" stroke="#555" stroke-width="0.75"/>
<path d="M122.4,43.5 Q122.4,41.6 124.3,41.6 L137.5,41.6 L147.5,51 L147.5,63.2 Q147.5,64.8 145.8,64.8 L124.1,64.8 Q122.4,64.8 122.4,63.1 Z" fill="none" stroke="#555" stroke-width="0.7"/>
<line x1="137.5" y1="41.6" x2="147.5" y2="51" stroke="#222" stroke-width="0.9"/>
<rect x="114.4" y="28.0" width="23.20" height="6.20" fill="#fff"/>
<rect x="121.2" y="36.4" width="12.20" height="6.00" fill="#fff"/>
<text x="114.9" y="33.3" font-size="7.0" text-anchor="start" fill="#222" textLength="22.3" lengthAdjust="spacingAndGlyphs" >CD11b–</text>
<text x="121.8" y="41.5" font-size="7.0" text-anchor="start" fill="#222" textLength="11.2" lengthAdjust="spacingAndGlyphs" >20.8</text>
<rect x="150.3" y="27.0" width="25.90" height="6.20" fill="#fff"/>
<rect x="156.7" y="35.0" width="12.90" height="5.80" fill="#fff"/>
<text x="150.7" y="32.2" font-size="7.0" text-anchor="start" fill="#222" textLength="24.8" lengthAdjust="spacingAndGlyphs" >CD11b+</text>
<text x="157.1" y="40.0" font-size="7.0" text-anchor="start" fill="#222" textLength="12.2" lengthAdjust="spacingAndGlyphs" >78.0</text>
<line x1="176.8" y1="29.5" x2="201" y2="29.5" stroke="#000" stroke-width="0.9"/>
<path d="M199.5,27.9 L205,29.9 L199.5,31.9 Z" fill="#000"/>
<text x="145.3" y="103.6" font-size="8.6" text-anchor="middle" fill="#111" stroke="#111" stroke-width="0.4" textLength="27.2" lengthAdjust="spacingAndGlyphs" >PE-CD11b</text>
<rect x="191.3" y="19.4" width="69.90" height="70.00" fill="none" stroke="#000" stroke-width="1.15"/>
<path d="M189.30,89.40h2.0 M190.10,85.19h1.2 M190.10,82.72h1.2 M190.10,80.97h1.2 M190.10,79.61h1.2 M190.10,78.51h1.2 M190.10,77.57h1.2 M190.10,76.76h1.2 M190.10,76.04h1.2 M189.30,75.40h2.0 M190.10,71.19h1.2 M190.10,68.72h1.2 M190.10,66.97h1.2 M190.10,65.61h1.2 M190.10,64.51h1.2 M190.10,63.57h1.2 M190.10,62.76h1.2 M190.10,62.04h1.2 M189.30,61.40h2.0 M190.10,57.19h1.2 M190.10,54.72h1.2 M190.10,52.97h1.2 M190.10,51.61h1.2 M190.10,50.51h1.2 M190.10,49.57h1.2 M190.10,48.76h1.2 M190.10,48.04h1.2 M189.30,47.40h2.0 M190.10,43.19h1.2 M190.10,40.72h1.2 M190.10,38.97h1.2 M190.10,37.61h1.2 M190.10,36.51h1.2 M190.10,35.57h1.2 M190.10,34.76h1.2 M190.10,34.04h1.2 M189.30,33.40h2.0 M190.10,29.19h1.2 M190.10,26.72h1.2 M190.10,24.97h1.2 M190.10,23.61h1.2 M190.10,22.51h1.2 M190.10,21.57h1.2 M190.10,20.76h1.2 M190.10,20.04h1.2 M191.30,89.4v2.0 M195.51,89.4v1.2 M197.97,89.4v1.2 M199.72,89.4v1.2 M201.07,89.4v1.2 M202.18,89.4v1.2 M203.11,89.4v1.2 M203.93,89.4v1.2 M204.64,89.4v1.2 M205.28,89.4v2.0 M209.49,89.4v1.2 M211.95,89.4v1.2 M213.70,89.4v1.2 M215.05,89.4v1.2 M216.16,89.4v1.2 M217.09,89.4v1.2 M217.91,89.4v1.2 M218.62,89.4v1.2 M219.26,89.4v2.0 M223.47,89.4v1.2 M225.93,89.4v1.2 M227.68,89.4v1.2 M229.03,89.4v1.2 M230.14,89.4v1.2 M231.07,89.4v1.2 M231.89,89.4v1.2 M232.60,89.4v1.2 M233.24,89.4v2.0 M237.45,89.4v1.2 M239.91,89.4v1.2 M241.66,89.4v1.2 M243.01,89.4v1.2 M244.12,89.4v1.2 M245.05,89.4v1.2 M245.87,89.4v1.2 M246.58,89.4v1.2 M247.22,89.4v2.0 M251.43,89.4v1.2 M253.89,89.4v1.2 M255.64,89.4v1.2 M256.99,89.4v1.2 M258.10,89.4v1.2 M259.03,89.4v1.2 M259.85,89.4v1.2 M260.56,89.4v1.2" stroke="#000" stroke-width="0.85" fill="none"/>
<g fill="#4a5aff" opacity="0.55"><circle cx="231.2" cy="36.2" r="0.43"/><circle cx="231.4" cy="37.3" r="0.28"/><circle cx="229.2" cy="34.9" r="0.31"/><circle cx="225.2" cy="38.1" r="0.44"/><circle cx="230.2" cy="35.9" r="0.44"/><circle cx="230.1" cy="36.0" r="0.34"/><circle cx="230.8" cy="35.3" r="0.33"/><circle cx="225.2" cy="37.9" r="0.30"/><circle cx="230.9" cy="38.8" r="0.34"/><circle cx="231.1" cy="31.5" r="0.41"/><circle cx="229.0" cy="35.4" r="0.40"/><circle cx="226.7" cy="34.7" r="0.38"/><circle cx="229.5" cy="32.4" r="0.32"/><circle cx="231.8" cy="32.9" r="0.31"/><circle cx="228.3" cy="33.0" r="0.40"/><circle cx="233.5" cy="35.3" r="0.36"/><circle cx="226.3" cy="38.3" r="0.30"/><circle cx="229.5" cy="35.0" r="0.36"/><circle cx="229.6" cy="30.9" r="0.33"/><circle cx="229.9" cy="33.2" r="0.31"/><circle cx="226.0" cy="29.7" r="0.38"/><circle cx="228.1" cy="30.7" r="0.33"/><circle cx="232.9" cy="32.9" r="0.32"/><circle cx="226.4" cy="36.7" r="0.32"/><circle cx="231.3" cy="38.3" r="0.36"/><circle cx="226.3" cy="33.8" r="0.43"/><circle cx="230.8" cy="35.7" r="0.26"/><circle cx="227.3" cy="35.5" r="0.42"/><circle cx="228.1" cy="31.7" r="0.33"/><circle cx="227.9" cy="33.4" r="0.42"/><circle cx="230.5" cy="30.1" r="0.28"/><circle cx="227.8" cy="31.0" r="0.35"/><circle cx="233.3" cy="31.4" r="0.40"/><circle cx="230.9" cy="31.3" r="0.43"/><circle cx="231.8" cy="36.7" r="0.39"/><circle cx="228.2" cy="33.1" r="0.26"/><circle cx="226.2" cy="31.7" r="0.30"/><circle cx="229.9" cy="35.7" r="0.27"/><circle cx="226.8" cy="28.9" r="0.41"/><circle cx="227.3" cy="36.8" r="0.26"/><circle cx="230.5" cy="32.5" r="0.25"/><circle cx="228.7" cy="33.3" r="0.31"/><circle cx="231.7" cy="35.1" r="0.36"/><circle cx="229.7" cy="33.6" r="0.42"/><circle cx="230.7" cy="35.2" r="0.38"/><circle cx="228.4" cy="35.9" r="0.36"/><circle cx="230.3" cy="38.0" r="0.29"/><circle cx="231.6" cy="30.8" r="0.36"/><circle cx="233.2" cy="34.9" r="0.26"/><circle cx="227.2" cy="34.1" r="0.26"/><circle cx="227.1" cy="31.6" r="0.37"/><circle cx="227.4" cy="35.7" r="0.37"/><circle cx="230.2" cy="38.6" r="0.45"/><circle cx="231.4" cy="28.9" r="0.32"/><circle cx="230.3" cy="34.1" r="0.35"/><circle cx="231.1" cy="36.0" r="0.39"/><circle cx="228.9" cy="31.9" r="0.32"/><circle cx="230.3" cy="36.3" r="0.31"/><circle cx="230.7" cy="37.6" r="0.35"/><circle cx="228.1" cy="34.7" r="0.39"/></g>
<g fill="#4a5aff" opacity="0.55"><circle cx="227.5" cy="45.7" r="0.36"/><circle cx="224.3" cy="37.1" r="0.40"/><circle cx="233.1" cy="41.9" r="0.39"/><circle cx="226.5" cy="42.9" r="0.29"/><circle cx="232.7" cy="44.2" r="0.39"/><circle cx="225.1" cy="42.3" r="0.32"/><circle cx="228.9" cy="46.9" r="0.45"/><circle cx="226.4" cy="44.5" r="0.29"/><circle cx="222.8" cy="48.2" r="0.41"/><circle cx="225.4" cy="44.1" r="0.27"/><circle cx="229.7" cy="47.5" r="0.34"/><circle cx="233.3" cy="43.5" r="0.41"/><circle cx="221.2" cy="44.5" r="0.28"/><circle cx="229.7" cy="45.9" r="0.35"/><circle cx="227.3" cy="45.7" r="0.25"/><circle cx="230.7" cy="41.6" r="0.44"/><circle cx="229.9" cy="43.5" r="0.40"/><circle cx="222.6" cy="47.0" r="0.42"/><circle cx="227.0" cy="44.1" r="0.29"/><circle cx="224.2" cy="42.5" r="0.25"/><circle cx="229.2" cy="39.8" r="0.34"/><circle cx="232.8" cy="45.3" r="0.36"/><circle cx="229.1" cy="44.8" r="0.37"/><circle cx="229.3" cy="41.8" r="0.38"/><circle cx="227.3" cy="45.7" r="0.43"/><circle cx="225.7" cy="44.6" r="0.37"/><circle cx="228.1" cy="45.0" r="0.34"/><circle cx="223.0" cy="41.9" r="0.39"/><circle cx="225.7" cy="44.2" r="0.39"/><circle cx="229.9" cy="44.8" r="0.33"/><circle cx="224.5" cy="40.2" r="0.30"/><circle cx="224.0" cy="40.6" r="0.34"/><circle cx="230.8" cy="48.2" r="0.37"/><circle cx="228.7" cy="44.5" r="0.45"/><circle cx="227.1" cy="46.4" r="0.41"/><circle cx="228.6" cy="40.5" r="0.40"/><circle cx="228.0" cy="44.1" r="0.45"/><circle cx="227.0" cy="43.1" r="0.26"/><circle cx="227.1" cy="49.8" r="0.29"/><circle cx="223.4" cy="38.5" r="0.38"/><circle cx="228.7" cy="42.8" r="0.28"/><circle cx="231.7" cy="44.3" r="0.27"/><circle cx="231.4" cy="43.1" r="0.29"/><circle cx="227.3" cy="42.3" r="0.35"/><circle cx="230.9" cy="46.6" r="0.43"/><circle cx="226.9" cy="43.7" r="0.42"/><circle cx="221.5" cy="42.1" r="0.35"/><circle cx="223.8" cy="41.4" r="0.41"/><circle cx="227.6" cy="44.2" r="0.36"/><circle cx="225.9" cy="46.3" r="0.25"/><circle cx="226.7" cy="43.2" r="0.42"/><circle cx="228.0" cy="41.1" r="0.27"/><circle cx="225.5" cy="42.4" r="0.34"/><circle cx="233.0" cy="48.4" r="0.36"/><circle cx="225.9" cy="44.7" r="0.40"/><circle cx="230.1" cy="39.7" r="0.27"/><circle cx="225.0" cy="45.4" r="0.40"/><circle cx="229.2" cy="46.6" r="0.45"/><circle cx="226.7" cy="43.5" r="0.26"/><circle cx="230.2" cy="46.4" r="0.37"/><circle cx="223.4" cy="43.4" r="0.33"/><circle cx="223.4" cy="41.4" r="0.43"/><circle cx="226.1" cy="39.2" r="0.43"/><circle cx="229.2" cy="40.3" r="0.26"/><circle cx="224.2" cy="39.2" r="0.34"/><circle cx="228.1" cy="42.7" r="0.44"/><circle cx="222.3" cy="45.3" r="0.30"/><circle cx="225.8" cy="46.1" r="0.31"/><circle cx="229.4" cy="45.4" r="0.45"/><circle cx="222.8" cy="38.8" r="0.40"/><circle cx="231.7" cy="36.7" r="0.40"/><circle cx="226.4" cy="45.7" r="0.33"/><circle cx="228.9" cy="44.0" r="0.43"/><circle cx="229.1" cy="42.7" r="0.40"/><circle cx="227.7" cy="38.4" r="0.41"/><circle cx="225.3" cy="43.6" r="0.42"/><circle cx="225.1" cy="47.2" r="0.32"/><circle cx="219.1" cy="42.2" r="0.28"/><circle cx="222.4" cy="43.1" r="0.36"/><circle cx="229.5" cy="42.8" r="0.43"/><circle cx="223.8" cy="37.5" r="0.27"/><circle cx="227.3" cy="45.9" r="0.43"/><circle cx="229.0" cy="44.0" r="0.39"/><circle cx="228.6" cy="43.7" r="0.34"/><circle cx="224.9" cy="40.1" r="0.40"/><circle cx="226.7" cy="41.8" r="0.30"/><circle cx="231.2" cy="44.5" r="0.29"/><circle cx="226.2" cy="50.5" r="0.38"/><circle cx="223.0" cy="41.7" r="0.37"/><circle cx="225.8" cy="41.7" r="0.26"/></g>
<g filter="url(#b1)"><ellipse cx="229.8" cy="33.8" rx="2.6" ry="2.6" fill="#5a6aee" opacity="0.65"/><ellipse cx="226.7" cy="43.6" rx="3.4" ry="3" fill="#5a70e0" opacity="0.65"/></g>
<g filter="url(#b05)"><circle cx="229.9" cy="33.9" r="1.0" fill="#40a868"/><circle cx="226.7" cy="43.6" r="2.0" fill="#48a890"/><circle cx="226.8" cy="43.6" r="1.1" fill="#b8b030"/><circle cx="227" cy="43.7" r="0.5" fill="#d05020"/></g>
<path d="M225.5,24 Q225.5,22.4 227,22.4 L241.5,22.4 Q243,22.4 243,24 L243,40.8 Q243,42.4 241.5,42.4 L236.8,42.4" fill="none" stroke="#555" stroke-width="0.75"/>
<line x1="225.5" y1="24" x2="225.5" y2="37.0" stroke="#555" stroke-width="0.75"/>
<path d="M213.1,37.8 Q213.1,36.2 214.7,36.2 L223.6,36.2 L236.8,43.6 L236.8,53.2 Q236.8,54.8 235.2,54.8 L214.7,54.8 Q213.1,54.8 213.1,53.2 Z" fill="none" stroke="#555" stroke-width="0.7"/>
<line x1="223.6" y1="36.2" x2="236.8" y2="43.6" stroke="#222" stroke-width="0.9"/>
<rect x="227.0" y="21.8" width="31.50" height="6.20" fill="#fff"/>
<rect x="235.8" y="30.2" width="12.80" height="6.00" fill="#fff"/>
<text x="227.3" y="27.0" font-size="7.0" text-anchor="start" fill="#222" textLength="31.5" lengthAdjust="spacingAndGlyphs" >neutrophils</text>
<text x="236.3" y="35.4" font-size="7.0" text-anchor="start" fill="#222" textLength="11.6" lengthAdjust="spacingAndGlyphs" >27.9</text>
<rect x="194.3" y="37.3" width="29.30" height="6.10" fill="#fff"/>
<rect x="202.3" y="45.0" width="10.60" height="6.00" fill="#fff"/>
<text x="194.7" y="42.5" font-size="7.0" text-anchor="start" fill="#222" textLength="28.3" lengthAdjust="spacingAndGlyphs" >monocytes</text>
<text x="202.8" y="50.3" font-size="7.0" text-anchor="start" fill="#222" textLength="11.6" lengthAdjust="spacingAndGlyphs" >71.7</text>
<line x1="259.2" y1="27.5" x2="282" y2="27.5" stroke="#000" stroke-width="0.9"/>
<path d="M281.5,25.4 L287,27.4 L281.5,29.4 Z" fill="#000"/>
<text x="226.6" y="103.6" font-size="8.6" text-anchor="middle" fill="#111" stroke="#111" stroke-width="0.4" textLength="35.5" lengthAdjust="spacingAndGlyphs" >FITC-CD66b</text>
<rect x="267.1" y="19.7" width="69.40" height="69.50" fill="none" stroke="#000" stroke-width="1.15"/>
<path d="M265.10,89.20h2.0 M265.90,85.02h1.2 M265.90,82.57h1.2 M265.90,80.83h1.2 M265.90,79.48h1.2 M265.90,78.38h1.2 M265.90,77.45h1.2 M265.90,76.65h1.2 M265.90,75.94h1.2 M265.10,75.30h2.0 M265.90,71.12h1.2 M265.90,68.67h1.2 M265.90,66.93h1.2 M265.90,65.58h1.2 M265.90,64.48h1.2 M265.90,63.55h1.2 M265.90,62.75h1.2 M265.90,62.04h1.2 M265.10,61.40h2.0 M265.90,57.22h1.2 M265.90,54.77h1.2 M265.90,53.03h1.2 M265.90,51.68h1.2 M265.90,50.58h1.2 M265.90,49.65h1.2 M265.90,48.85h1.2 M265.90,48.14h1.2 M265.10,47.50h2.0 M265.90,43.32h1.2 M265.90,40.87h1.2 M265.90,39.13h1.2 M265.90,37.78h1.2 M265.90,36.68h1.2 M265.90,35.75h1.2 M265.90,34.95h1.2 M265.90,34.24h1.2 M265.10,33.60h2.0 M265.90,29.42h1.2 M265.90,26.97h1.2 M265.90,25.23h1.2 M265.90,23.88h1.2 M265.90,22.78h1.2 M265.90,21.85h1.2 M265.90,21.05h1.2 M265.90,20.34h1.2 M267.10,89.2v2.0 M271.28,89.2v1.2 M273.72,89.2v1.2 M275.46,89.2v1.2 M276.80,89.2v1.2 M277.90,89.2v1.2 M278.83,89.2v1.2 M279.63,89.2v1.2 M280.34,89.2v1.2 M280.98,89.2v2.0 M285.16,89.2v1.2 M287.60,89.2v1.2 M289.34,89.2v1.2 M290.68,89.2v1.2 M291.78,89.2v1.2 M292.71,89.2v1.2 M293.51,89.2v1.2 M294.22,89.2v1.2 M294.86,89.2v2.0 M299.04,89.2v1.2 M301.48,89.2v1.2 M303.22,89.2v1.2 M304.56,89.2v1.2 M305.66,89.2v1.2 M306.59,89.2v1.2 M307.39,89.2v1.2 M308.10,89.2v1.2 M308.74,89.2v2.0 M312.92,89.2v1.2 M315.36,89.2v1.2 M317.10,89.2v1.2 M318.44,89.2v1.2 M319.54,89.2v1.2 M320.47,89.2v1.2 M321.27,89.2v1.2 M321.98,89.2v1.2 M322.62,89.2v2.0 M326.80,89.2v1.2 M329.24,89.2v1.2 M330.98,89.2v1.2 M332.32,89.2v1.2 M333.42,89.2v1.2 M334.35,89.2v1.2 M335.15,89.2v1.2 M335.86,89.2v1.2" stroke="#000" stroke-width="0.85" fill="none"/>
<g fill="#6a78ff" opacity="0.4"><circle cx="295.9" cy="44.6" r="0.32"/><circle cx="296.8" cy="47.1" r="0.35"/><circle cx="304.0" cy="41.7" r="0.30"/><circle cx="295.5" cy="39.0" r="0.27"/><circle cx="293.0" cy="51.8" r="0.39"/><circle cx="285.9" cy="48.4" r="0.27"/><circle cx="300.0" cy="41.0" r="0.42"/><circle cx="306.1" cy="46.9" r="0.30"/><circle cx="301.6" cy="32.6" r="0.38"/><circle cx="294.9" cy="45.1" r="0.29"/><circle cx="297.9" cy="41.4" r="0.38"/><circle cx="287.5" cy="37.9" r="0.29"/><circle cx="296.7" cy="46.8" r="0.45"/><circle cx="288.5" cy="51.8" r="0.36"/><circle cx="295.4" cy="46.9" r="0.25"/><circle cx="296.9" cy="40.6" r="0.44"/><circle cx="288.7" cy="53.7" r="0.28"/><circle cx="296.1" cy="38.1" r="0.32"/><circle cx="292.1" cy="43.4" r="0.30"/><circle cx="296.4" cy="37.7" r="0.33"/><circle cx="295.4" cy="38.3" r="0.29"/><circle cx="296.1" cy="51.7" r="0.32"/><circle cx="290.7" cy="37.0" r="0.42"/><circle cx="303.4" cy="47.7" r="0.42"/><circle cx="295.1" cy="45.9" r="0.34"/><circle cx="300.0" cy="49.9" r="0.39"/><circle cx="297.5" cy="46.2" r="0.35"/><circle cx="297.0" cy="49.1" r="0.34"/><circle cx="296.7" cy="46.0" r="0.32"/><circle cx="281.2" cy="47.6" r="0.36"/><circle cx="298.8" cy="46.5" r="0.40"/><circle cx="283.8" cy="37.8" r="0.44"/><circle cx="296.8" cy="41.0" r="0.44"/><circle cx="290.6" cy="43.1" r="0.28"/><circle cx="297.7" cy="39.8" r="0.27"/><circle cx="293.7" cy="62.1" r="0.34"/><circle cx="294.7" cy="40.9" r="0.34"/><circle cx="293.3" cy="48.9" r="0.38"/><circle cx="293.1" cy="47.1" r="0.45"/><circle cx="291.2" cy="44.6" r="0.25"/><circle cx="290.9" cy="36.1" r="0.25"/><circle cx="285.3" cy="46.4" r="0.36"/><circle cx="295.7" cy="53.4" r="0.37"/><circle cx="293.0" cy="40.4" r="0.41"/><circle cx="304.3" cy="39.6" r="0.42"/><circle cx="286.3" cy="56.8" r="0.29"/><circle cx="296.2" cy="54.7" r="0.43"/><circle cx="298.7" cy="46.8" r="0.26"/><circle cx="291.9" cy="45.6" r="0.29"/><circle cx="294.9" cy="33.4" r="0.44"/><circle cx="287.6" cy="51.0" r="0.25"/><circle cx="299.1" cy="42.1" r="0.35"/><circle cx="280.4" cy="42.6" r="0.35"/><circle cx="303.3" cy="43.4" r="0.29"/><circle cx="297.0" cy="39.4" r="0.45"/><circle cx="290.9" cy="45.5" r="0.44"/><circle cx="292.3" cy="51.4" r="0.32"/><circle cx="294.4" cy="42.5" r="0.32"/><circle cx="300.9" cy="56.8" r="0.25"/><circle cx="291.4" cy="40.1" r="0.34"/><circle cx="286.2" cy="39.2" r="0.28"/><circle cx="295.2" cy="48.0" r="0.44"/><circle cx="296.9" cy="47.5" r="0.35"/><circle cx="284.1" cy="35.8" r="0.26"/><circle cx="295.4" cy="48.8" r="0.37"/><circle cx="289.1" cy="46.4" r="0.43"/><circle cx="288.7" cy="30.5" r="0.44"/><circle cx="293.3" cy="63.0" r="0.33"/><circle cx="307.6" cy="49.7" r="0.27"/><circle cx="299.9" cy="44.7" r="0.31"/><circle cx="306.9" cy="40.7" r="0.33"/><circle cx="283.5" cy="41.1" r="0.41"/><circle cx="290.9" cy="36.1" r="0.27"/><circle cx="295.3" cy="55.7" r="0.37"/><circle cx="299.0" cy="27.8" r="0.44"/><circle cx="295.8" cy="47.0" r="0.43"/><circle cx="291.6" cy="41.8" r="0.39"/><circle cx="294.8" cy="49.9" r="0.32"/><circle cx="286.1" cy="42.2" r="0.26"/><circle cx="294.5" cy="32.8" r="0.34"/><circle cx="289.9" cy="31.3" r="0.25"/><circle cx="286.1" cy="45.9" r="0.39"/><circle cx="292.7" cy="40.0" r="0.44"/><circle cx="296.0" cy="38.3" r="0.34"/><circle cx="298.9" cy="42.6" r="0.33"/><circle cx="307.5" cy="39.9" r="0.30"/><circle cx="294.5" cy="36.5" r="0.38"/><circle cx="295.3" cy="39.8" r="0.29"/><circle cx="296.0" cy="50.1" r="0.26"/><circle cx="299.0" cy="50.2" r="0.33"/><circle cx="302.0" cy="49.0" r="0.44"/><circle cx="290.0" cy="40.5" r="0.39"/><circle cx="291.6" cy="45.9" r="0.35"/><circle cx="304.0" cy="45.3" r="0.28"/><circle cx="284.5" cy="59.0" r="0.40"/><circle cx="299.4" cy="34.1" r="0.38"/><circle cx="290.6" cy="24.0" r="0.29"/><circle cx="295.5" cy="37.3" r="0.30"/><circle cx="298.5" cy="34.2" r="0.42"/><circle cx="300.7" cy="36.5" r="0.29"/><circle cx="302.4" cy="44.9" r="0.40"/><circle cx="294.7" cy="47.0" r="0.25"/><circle cx="299.3" cy="54.9" r="0.25"/><circle cx="295.6" cy="50.2" r="0.39"/><circle cx="296.2" cy="43.9" r="0.27"/><circle cx="309.6" cy="35.5" r="0.28"/><circle cx="291.3" cy="52.4" r="0.31"/><circle cx="289.1" cy="48.5" r="0.30"/><circle cx="297.4" cy="45.1" r="0.28"/><circle cx="302.0" cy="50.1" r="0.39"/><circle cx="294.1" cy="58.1" r="0.40"/><circle cx="291.2" cy="51.8" r="0.29"/><circle cx="301.9" cy="39.6" r="0.26"/><circle cx="300.2" cy="54.1" r="0.33"/><circle cx="294.1" cy="38.3" r="0.41"/><circle cx="295.9" cy="40.6" r="0.37"/><circle cx="298.4" cy="55.7" r="0.41"/><circle cx="296.1" cy="38.4" r="0.27"/><circle cx="291.0" cy="35.2" r="0.28"/><circle cx="297.8" cy="53.9" r="0.27"/><circle cx="292.0" cy="39.6" r="0.30"/><circle cx="288.4" cy="48.6" r="0.39"/><circle cx="304.5" cy="46.5" r="0.29"/><circle cx="292.8" cy="55.1" r="0.39"/><circle cx="285.3" cy="32.6" r="0.29"/><circle cx="291.7" cy="54.9" r="0.30"/><circle cx="297.4" cy="48.8" r="0.40"/><circle cx="299.4" cy="32.8" r="0.44"/><circle cx="296.4" cy="37.4" r="0.31"/><circle cx="294.6" cy="41.3" r="0.37"/><circle cx="296.6" cy="45.3" r="0.35"/><circle cx="303.1" cy="59.1" r="0.43"/><circle cx="291.1" cy="45.3" r="0.27"/><circle cx="287.7" cy="43.6" r="0.32"/><circle cx="293.5" cy="34.4" r="0.41"/><circle cx="296.8" cy="45.9" r="0.33"/><circle cx="290.4" cy="44.6" r="0.38"/><circle cx="295.9" cy="50.9" r="0.35"/><circle cx="292.6" cy="30.7" r="0.32"/><circle cx="282.0" cy="50.0" r="0.44"/><circle cx="292.9" cy="41.4" r="0.34"/><circle cx="291.8" cy="39.1" r="0.26"/><circle cx="308.1" cy="41.9" r="0.28"/><circle cx="286.9" cy="46.4" r="0.31"/><circle cx="304.1" cy="49.6" r="0.40"/><circle cx="292.7" cy="45.3" r="0.33"/><circle cx="307.8" cy="55.5" r="0.26"/><circle cx="292.6" cy="57.3" r="0.28"/><circle cx="296.8" cy="45.9" r="0.28"/><circle cx="283.9" cy="41.0" r="0.28"/><circle cx="299.7" cy="56.1" r="0.34"/><circle cx="293.4" cy="47.5" r="0.30"/><circle cx="297.9" cy="43.3" r="0.30"/><circle cx="294.3" cy="27.2" r="0.43"/><circle cx="280.2" cy="47.4" r="0.37"/><circle cx="293.4" cy="52.7" r="0.39"/><circle cx="294.7" cy="39.8" r="0.29"/><circle cx="297.8" cy="43.0" r="0.41"/><circle cx="292.6" cy="49.1" r="0.30"/><circle cx="277.0" cy="48.7" r="0.28"/><circle cx="298.2" cy="38.4" r="0.28"/><circle cx="294.8" cy="36.7" r="0.29"/><circle cx="285.3" cy="51.3" r="0.42"/><circle cx="294.2" cy="43.5" r="0.40"/><circle cx="284.9" cy="33.4" r="0.44"/><circle cx="289.6" cy="57.8" r="0.41"/><circle cx="294.4" cy="51.6" r="0.32"/><circle cx="291.5" cy="50.2" r="0.27"/><circle cx="296.9" cy="61.4" r="0.33"/><circle cx="286.8" cy="31.4" r="0.40"/><circle cx="295.5" cy="62.0" r="0.41"/><circle cx="304.7" cy="43.2" r="0.40"/><circle cx="296.8" cy="38.4" r="0.38"/><circle cx="286.6" cy="54.4" r="0.28"/><circle cx="289.7" cy="42.2" r="0.41"/><circle cx="288.5" cy="56.7" r="0.42"/><circle cx="297.4" cy="41.0" r="0.44"/><circle cx="294.7" cy="32.0" r="0.38"/><circle cx="306.6" cy="48.8" r="0.36"/><circle cx="289.7" cy="46.0" r="0.41"/></g>
<g fill="#6a78ff" opacity="0.35"><circle cx="314.0" cy="38.1" r="0.29"/><circle cx="310.0" cy="45.9" r="0.27"/><circle cx="311.5" cy="44.6" r="0.41"/><circle cx="312.3" cy="45.1" r="0.26"/><circle cx="311.8" cy="42.0" r="0.34"/><circle cx="304.7" cy="47.1" r="0.44"/><circle cx="309.4" cy="47.9" r="0.43"/><circle cx="301.5" cy="45.2" r="0.40"/><circle cx="308.2" cy="49.7" r="0.36"/><circle cx="317.2" cy="46.5" r="0.42"/><circle cx="306.3" cy="43.6" r="0.33"/><circle cx="317.4" cy="41.0" r="0.29"/><circle cx="308.9" cy="46.2" r="0.44"/><circle cx="311.1" cy="42.5" r="0.43"/><circle cx="318.5" cy="44.9" r="0.34"/><circle cx="310.9" cy="40.9" r="0.27"/><circle cx="302.8" cy="43.2" r="0.41"/><circle cx="309.8" cy="45.7" r="0.40"/><circle cx="313.1" cy="42.0" r="0.43"/><circle cx="317.3" cy="43.8" r="0.33"/><circle cx="309.1" cy="37.3" r="0.29"/><circle cx="310.6" cy="46.5" r="0.40"/><circle cx="314.4" cy="47.5" r="0.35"/><circle cx="310.6" cy="42.5" r="0.44"/><circle cx="318.4" cy="44.0" r="0.41"/></g>
<g filter="url(#b1)"><ellipse cx="294.8" cy="34.5" rx="3.6" ry="2.8" fill="#7a86f0" opacity="0.55"/><ellipse cx="297.8" cy="43.5" rx="3.8" ry="3" fill="#6070e8" opacity="0.6"/><ellipse cx="299.8" cy="52.3" rx="3.2" ry="3" fill="#6070e8" opacity="0.55"/></g>
<g fill="#4a5ae0" opacity="0.6"><circle cx="296.4" cy="37.3" r="0.41"/><circle cx="295.0" cy="31.7" r="0.37"/><circle cx="295.9" cy="34.1" r="0.30"/><circle cx="290.9" cy="34.5" r="0.48"/><circle cx="296.9" cy="34.0" r="0.49"/><circle cx="293.9" cy="34.2" r="0.43"/><circle cx="295.4" cy="33.1" r="0.42"/><circle cx="294.7" cy="35.6" r="0.38"/><circle cx="292.8" cy="34.4" r="0.32"/><circle cx="296.4" cy="34.5" r="0.44"/><circle cx="294.8" cy="33.5" r="0.35"/><circle cx="293.7" cy="34.4" r="0.42"/><circle cx="295.8" cy="34.0" r="0.42"/><circle cx="294.3" cy="32.2" r="0.44"/><circle cx="294.4" cy="33.4" r="0.47"/><circle cx="295.3" cy="34.3" r="0.49"/><circle cx="294.1" cy="34.7" r="0.31"/><circle cx="295.6" cy="32.5" r="0.33"/><circle cx="292.3" cy="35.0" r="0.50"/><circle cx="293.2" cy="36.5" r="0.35"/><circle cx="295.1" cy="35.3" r="0.38"/><circle cx="293.7" cy="33.7" r="0.33"/><circle cx="294.9" cy="35.1" r="0.34"/><circle cx="293.9" cy="36.0" r="0.34"/><circle cx="292.9" cy="34.7" r="0.49"/><circle cx="290.5" cy="34.8" r="0.39"/><circle cx="295.6" cy="36.3" r="0.33"/><circle cx="295.1" cy="35.0" r="0.44"/><circle cx="296.6" cy="34.2" r="0.37"/><circle cx="293.3" cy="35.1" r="0.44"/><circle cx="294.0" cy="35.0" r="0.47"/><circle cx="294.6" cy="34.4" r="0.47"/><circle cx="294.6" cy="33.2" r="0.43"/><circle cx="296.4" cy="33.8" r="0.39"/><circle cx="294.1" cy="36.2" r="0.43"/><circle cx="294.4" cy="31.1" r="0.33"/><circle cx="292.5" cy="36.5" r="0.46"/><circle cx="292.5" cy="33.4" r="0.37"/><circle cx="296.9" cy="33.9" r="0.38"/><circle cx="295.2" cy="35.1" r="0.48"/></g>
<g fill="#4a5ae0" opacity="0.6"><circle cx="297.9" cy="43.2" r="0.36"/><circle cx="295.7" cy="43.7" r="0.37"/><circle cx="299.1" cy="42.6" r="0.41"/><circle cx="300.1" cy="42.6" r="0.40"/><circle cx="296.9" cy="44.8" r="0.42"/><circle cx="298.1" cy="42.4" r="0.37"/><circle cx="296.5" cy="44.4" r="0.48"/><circle cx="296.4" cy="43.2" r="0.37"/><circle cx="298.3" cy="42.7" r="0.44"/><circle cx="299.0" cy="43.6" r="0.31"/><circle cx="298.1" cy="42.7" r="0.35"/><circle cx="299.1" cy="43.9" r="0.45"/><circle cx="297.1" cy="40.3" r="0.49"/><circle cx="293.9" cy="42.4" r="0.32"/><circle cx="299.5" cy="42.8" r="0.34"/><circle cx="297.8" cy="40.5" r="0.38"/><circle cx="300.8" cy="45.2" r="0.45"/><circle cx="293.8" cy="41.1" r="0.31"/><circle cx="298.7" cy="43.8" r="0.30"/><circle cx="297.1" cy="41.5" r="0.32"/><circle cx="298.4" cy="44.3" r="0.42"/><circle cx="295.6" cy="40.0" r="0.37"/><circle cx="299.7" cy="43.3" r="0.38"/><circle cx="297.8" cy="44.6" r="0.49"/><circle cx="300.6" cy="43.4" r="0.34"/><circle cx="298.2" cy="44.3" r="0.37"/><circle cx="297.7" cy="43.0" r="0.41"/><circle cx="297.6" cy="43.1" r="0.39"/><circle cx="298.4" cy="41.6" r="0.39"/><circle cx="299.6" cy="42.1" r="0.37"/><circle cx="294.4" cy="45.7" r="0.47"/><circle cx="299.8" cy="42.5" r="0.33"/><circle cx="298.6" cy="44.8" r="0.44"/><circle cx="301.0" cy="43.6" r="0.46"/><circle cx="297.6" cy="43.5" r="0.46"/><circle cx="295.5" cy="44.6" r="0.41"/><circle cx="297.6" cy="42.0" r="0.49"/><circle cx="301.8" cy="42.5" r="0.42"/><circle cx="297.1" cy="44.8" r="0.35"/><circle cx="300.4" cy="42.0" r="0.46"/><circle cx="300.2" cy="39.4" r="0.44"/><circle cx="296.5" cy="45.8" r="0.35"/><circle cx="297.0" cy="42.9" r="0.47"/><circle cx="296.4" cy="43.6" r="0.48"/><circle cx="301.4" cy="45.2" r="0.45"/><circle cx="299.6" cy="45.5" r="0.41"/><circle cx="299.8" cy="42.4" r="0.39"/><circle cx="298.5" cy="43.2" r="0.46"/><circle cx="299.0" cy="44.2" r="0.32"/><circle cx="299.1" cy="42.3" r="0.45"/></g>
<g fill="#4a5ae0" opacity="0.6"><circle cx="299.7" cy="54.7" r="0.43"/><circle cx="301.3" cy="53.3" r="0.44"/><circle cx="300.3" cy="54.4" r="0.36"/><circle cx="297.3" cy="54.7" r="0.49"/><circle cx="301.5" cy="52.3" r="0.41"/><circle cx="300.8" cy="49.9" r="0.39"/><circle cx="300.9" cy="51.2" r="0.49"/><circle cx="299.0" cy="52.4" r="0.45"/><circle cx="301.3" cy="54.1" r="0.31"/><circle cx="301.8" cy="52.2" r="0.45"/><circle cx="301.3" cy="53.9" r="0.38"/><circle cx="299.8" cy="55.1" r="0.31"/><circle cx="299.1" cy="52.4" r="0.47"/><circle cx="300.1" cy="52.1" r="0.39"/><circle cx="297.3" cy="52.8" r="0.45"/><circle cx="297.7" cy="55.2" r="0.34"/><circle cx="301.7" cy="54.4" r="0.32"/><circle cx="300.5" cy="53.9" r="0.37"/><circle cx="301.7" cy="55.3" r="0.39"/><circle cx="300.1" cy="51.2" r="0.48"/><circle cx="300.4" cy="55.5" r="0.42"/><circle cx="302.5" cy="51.8" r="0.43"/><circle cx="296.7" cy="51.7" r="0.39"/><circle cx="302.7" cy="54.2" r="0.46"/><circle cx="298.7" cy="50.0" r="0.35"/><circle cx="296.9" cy="52.9" r="0.49"/><circle cx="300.6" cy="51.9" r="0.44"/><circle cx="298.3" cy="51.8" r="0.33"/><circle cx="301.0" cy="53.6" r="0.40"/><circle cx="299.6" cy="53.7" r="0.41"/><circle cx="300.0" cy="50.3" r="0.33"/><circle cx="301.0" cy="51.4" r="0.49"/><circle cx="300.7" cy="52.2" r="0.42"/><circle cx="301.3" cy="52.0" r="0.41"/><circle cx="299.6" cy="52.6" r="0.34"/><circle cx="300.7" cy="53.2" r="0.43"/><circle cx="296.2" cy="50.9" r="0.44"/><circle cx="297.3" cy="55.1" r="0.43"/><circle cx="296.7" cy="51.5" r="0.43"/><circle cx="298.4" cy="53.9" r="0.36"/></g>
<g filter="url(#b05)"><circle cx="298" cy="43.6" r="1.2" fill="#70a850"/></g>
<rect x="304.3" y="23" width="24.3" height="39.9" rx="1.5" fill="none" stroke="#555" stroke-width="0.75"/>
<text x="306.7" y="30.6" font-size="7.0" text-anchor="start" fill="#222" textLength="20.1" lengthAdjust="spacingAndGlyphs" >CD41+</text>
<text x="310.8" y="39.0" font-size="7.0" text-anchor="start" fill="#222" textLength="11.8" lengthAdjust="spacingAndGlyphs" >3.22</text>
<text x="301.7" y="103.8" font-size="8.6" text-anchor="middle" fill="#111" stroke="#111" stroke-width="0.4" textLength="29.4" lengthAdjust="spacingAndGlyphs" >APC-CD41</text>
<rect x="353.5" y="19.4" width="71.5" height="69.8" fill="#fff" stroke="#111" stroke-width="1"/>
<g clip-path="url(#clipB)">
<g filter="url(#b4)"><ellipse cx="388" cy="54" rx="13" ry="13" fill="#f3d6ef"/><ellipse cx="383" cy="62" rx="8" ry="6" fill="#f4dcf0"/><ellipse cx="402" cy="78" rx="5" ry="6" fill="#f6e2f3"/></g>
<g filter="url(#b03)"><circle cx="392.2" cy="48.8" r="2.2" fill="#d8a0d4"/><circle cx="392.2" cy="48.8" r="1.10" fill="#e2b6de"/></g>
<g filter="url(#b03)"><circle cx="396.7" cy="52.0" r="2.6" fill="#d8a0d4"/><circle cx="396.7" cy="52.0" r="1.30" fill="#e2b6de"/></g>
<g filter="url(#b03)"><circle cx="382.6" cy="59.5" r="2.6" fill="#d8a0d4"/><circle cx="382.6" cy="59.5" r="1.30" fill="#e2b6de"/></g>
<g filter="url(#b03)"><circle cx="387.6" cy="62.6" r="2.8" fill="#d8a0d4"/><circle cx="387.6" cy="62.6" r="1.40" fill="#e2b6de"/></g>
<g filter="url(#b03)"><circle cx="379.8" cy="64.5" r="2.6" fill="#d8a0d4"/><circle cx="379.8" cy="64.5" r="1.30" fill="#e2b6de"/></g>
<g filter="url(#b03)"><circle cx="400.9" cy="75.6" r="2.9" fill="#d8a0d4"/><circle cx="400.9" cy="75.6" r="1.45" fill="#e2b6de"/></g>
<g filter="url(#b03)"><circle cx="400.9" cy="82.2" r="2.6" fill="#d8a0d4"/><circle cx="400.9" cy="82.2" r="1.30" fill="#e2b6de"/></g>
<g filter="url(#b03)"><circle cx="425.8" cy="73.5" r="2.5" fill="#d8a0d4"/><circle cx="425.8" cy="73.5" r="1.25" fill="#e2b6de"/></g>
<ellipse cx="387.2" cy="52.8" rx="4.8" ry="3.8" fill="#fbf6fb" filter="url(#b03)"/>
<ellipse cx="384.9" cy="49.7" rx="4.7" ry="4.2" fill="#5232a8" filter="url(#b03)"/>
<ellipse cx="384.5" cy="49.2" rx="3.4" ry="3.0" fill="#40208f" filter="url(#b03)"/>
<path d="M377.2,31.6 l2.6,-1.0 l1.8,1.2 l-0.8,1.5 l-2.2,0.1 z" fill="#9c62c8" filter="url(#b03)"/>
<circle cx="389.5" cy="29.5" r="0.9" fill="#d8b8ea"/>
</g>
<defs><clipPath id="clipB"><rect x="354" y="19.9" width="70.5" height="68.8"/></clipPath><clipPath id="clipC"><rect x="442.6" y="20.3" width="68.4" height="68.6"/></clipPath></defs>
<text x="402.0" y="79.7" font-size="6.4" text-anchor="start" fill="#111" stroke="#111" stroke-width="0.15" textLength="14.6" lengthAdjust="spacingAndGlyphs" >20um</text>
<line x1="400.0" y1="83.5" x2="418.0" y2="83.5" stroke="#7a7a7a" stroke-width="1.0"/>
<rect x="442.1" y="19.8" width="69.4" height="69.5" fill="#fdfafd" stroke="#111" stroke-width="1"/>
<g clip-path="url(#clipC)">
<g filter="url(#b4)"><ellipse cx="468" cy="52" rx="24" ry="21" fill="#e6cbec"/><ellipse cx="456" cy="72" rx="12" ry="17" fill="#ebd6ef"/><ellipse cx="478" cy="36" rx="16" ry="10" fill="#eedcf1"/><ellipse cx="501" cy="56" rx="9" ry="9" fill="#efdff2"/><ellipse cx="470" cy="84" rx="12" ry="6" fill="#eedcf1"/></g>
<g filter="url(#b05)"><circle cx="463.5" cy="30.0" r="3.1" fill="#d4b4d8"/><circle cx="463.5" cy="30.0" r="1.5" fill="#dcc4e0"/></g>
<g filter="url(#b05)"><circle cx="471.2" cy="29.3" r="3.1" fill="#d4b4d8"/><circle cx="471.2" cy="29.3" r="1.5" fill="#dcc4e0"/></g>
<g filter="url(#b05)"><circle cx="481.4" cy="29.2" r="3.1" fill="#d4b4d8"/><circle cx="481.4" cy="29.2" r="1.5" fill="#dcc4e0"/></g>
<g filter="url(#b05)"><circle cx="489.2" cy="31.8" r="3.1" fill="#d4b4d8"/><circle cx="489.2" cy="31.8" r="1.5" fill="#dcc4e0"/></g>
<g filter="url(#b05)"><circle cx="475.0" cy="37.3" r="3.1" fill="#c6a8ca"/><circle cx="475.0" cy="37.3" r="1.5" fill="#cfb6d3"/></g>
<g filter="url(#b05)"><circle cx="480.6" cy="36.4" r="3.1" fill="#c6a8ca"/><circle cx="480.6" cy="36.4" r="1.5" fill="#cfb6d3"/></g>
<g filter="url(#b05)"><circle cx="485.0" cy="39.3" r="3.1" fill="#d4b4d8"/><circle cx="485.0" cy="39.3" r="1.5" fill="#dcc4e0"/></g>
<g filter="url(#b05)"><circle cx="495.5" cy="43.8" r="3.1" fill="#d4b4d8"/><circle cx="495.5" cy="43.8" r="1.5" fill="#dcc4e0"/></g>
<g filter="url(#b05)"><circle cx="455.6" cy="45.8" r="3.1" fill="#d4b4d8"/><circle cx="455.6" cy="45.8" r="1.5" fill="#dcc4e0"/></g>
<g filter="url(#b05)"><circle cx="462.3" cy="44.4" r="3.1" fill="#d4b4d8"/><circle cx="462.3" cy="44.4" r="1.5" fill="#dcc4e0"/></g>
<g filter="url(#b05)"><circle cx="461.2" cy="47.6" r="3.1" fill="#d4b4d8"/><circle cx="461.2" cy="47.6" r="1.5" fill="#dcc4e0"/></g>
<g filter="url(#b05)"><circle cx="475.4" cy="44.6" r="3.1" fill="#c6a8ca"/><circle cx="475.4" cy="44.6" r="1.5" fill="#cfb6d3"/></g>
<g filter="url(#b05)"><circle cx="479.8" cy="46.0" r="3.1" fill="#c6a8ca"/><circle cx="479.8" cy="46.0" r="1.5" fill="#cfb6d3"/></g>
<g filter="url(#b05)"><circle cx="476.0" cy="41.2" r="3.1" fill="#c6a8ca"/><circle cx="476.0" cy="41.2" r="1.5" fill="#cfb6d3"/></g>
<g filter="url(#b05)"><circle cx="488.6" cy="62.1" r="3.1" fill="#d4b4d8"/><circle cx="488.6" cy="62.1" r="1.5" fill="#dcc4e0"/></g>
<g filter="url(#b05)"><circle cx="495.8" cy="66.0" r="3.1" fill="#d4b4d8"/><circle cx="495.8" cy="66.0" r="1.5" fill="#dcc4e0"/></g>
<g filter="url(#b05)"><circle cx="451.6" cy="58.7" r="3.1" fill="#d4b4d8"/><circle cx="451.6" cy="58.7" r="1.5" fill="#dcc4e0"/></g>
<g filter="url(#b05)"><circle cx="454.6" cy="66.6" r="3.1" fill="#d4b4d8"/><circle cx="454.6" cy="66.6" r="1.5" fill="#dcc4e0"/></g>
<g filter="url(#b05)"><circle cx="456.6" cy="70.6" r="3.1" fill="#d4b4d8"/><circle cx="456.6" cy="70.6" r="1.5" fill="#dcc4e0"/></g>
<g filter="url(#b05)"><circle cx="461.0" cy="74.2" r="3.1" fill="#d4b4d8"/><circle cx="461.0" cy="74.2" r="1.5" fill="#dcc4e0"/></g>
<g filter="url(#b05)"><circle cx="468.6" cy="74.4" r="3.1" fill="#d4b4d8"/><circle cx="468.6" cy="74.4" r="1.5" fill="#dcc4e0"/></g>
<g filter="url(#b05)"><circle cx="462.6" cy="81.0" r="3.1" fill="#d4b4d8"/><circle cx="462.6" cy="81.0" r="1.5" fill="#dcc4e0"/></g>
<g filter="url(#b05)"><circle cx="466.4" cy="84.6" r="3.1" fill="#d4b4d8"/><circle cx="466.4" cy="84.6" r="1.5" fill="#dcc4e0"/></g>
<g filter="url(#b05)"><circle cx="473.8" cy="81.0" r="3.1" fill="#d4b4d8"/><circle cx="473.8" cy="81.0" r="1.5" fill="#dcc4e0"/></g>
<g filter="url(#b05)"><circle cx="471.6" cy="85.8" r="3.1" fill="#d4b4d8"/><circle cx="471.6" cy="85.8" r="1.5" fill="#dcc4e0"/></g>
<g filter="url(#b05)"><circle cx="461.0" cy="87.2" r="3.1" fill="#d4b4d8"/><circle cx="461.0" cy="87.2" r="1.5" fill="#dcc4e0"/></g>
<g filter="url(#b05)"><circle cx="509.8" cy="37.0" r="3.1" fill="#d4b4d8"/><circle cx="509.8" cy="37.0" r="1.5" fill="#dcc4e0"/></g>
<g filter="url(#b05)"><circle cx="496.5" cy="77.5" r="3.1" fill="#e6d6ea"/><circle cx="496.5" cy="77.5" r="1.5" fill="#ece0ee"/></g>
<circle cx="486.7" cy="50.9" r="3.1" fill="#c3bde9" filter="url(#b03)"/>
<circle cx="475.6" cy="61.6" r="3.1" fill="#c3bde9" filter="url(#b03)"/>
<ellipse cx="457.4" cy="31.5" rx="2.1" ry="3.6" transform="rotate(-35 457.4 31.5)" fill="#cbc4ee" filter="url(#b03)"/>
<g filter="url(#b05)"><ellipse cx="478.3" cy="53" rx="6" ry="5" fill="#a27ad4" opacity="0.6"/><ellipse cx="501.4" cy="54.5" rx="4.6" ry="4.3" fill="#ad88d8" opacity="0.55"/></g>
<g fill="#7446bc" opacity="0.75"><circle cx="480.3" cy="52.7" r="0.84"/><circle cx="478.6" cy="53.1" r="0.69"/><circle cx="479.2" cy="55.8" r="0.54"/><circle cx="480.4" cy="49.9" r="0.74"/><circle cx="485.8" cy="49.6" r="0.74"/><circle cx="478.3" cy="52.9" r="0.52"/><circle cx="471.9" cy="55.9" r="0.61"/><circle cx="478.0" cy="52.9" r="0.65"/><circle cx="481.2" cy="51.1" r="0.79"/><circle cx="480.1" cy="53.1" r="0.56"/><circle cx="478.9" cy="52.0" r="0.83"/><circle cx="477.7" cy="58.0" r="0.68"/><circle cx="475.2" cy="58.7" r="0.64"/><circle cx="478.0" cy="52.1" r="0.79"/><circle cx="479.6" cy="52.9" r="0.76"/><circle cx="478.1" cy="54.4" r="0.63"/><circle cx="474.8" cy="47.9" r="0.85"/><circle cx="482.1" cy="52.9" r="0.73"/><circle cx="480.6" cy="56.3" r="0.69"/><circle cx="474.6" cy="57.0" r="0.59"/><circle cx="479.3" cy="54.1" r="0.55"/><circle cx="474.2" cy="50.7" r="0.56"/><circle cx="474.8" cy="52.9" r="0.70"/><circle cx="475.4" cy="54.6" r="0.51"/><circle cx="480.9" cy="53.9" r="0.58"/><circle cx="478.4" cy="51.2" r="0.79"/><circle cx="478.4" cy="54.1" r="0.67"/><circle cx="476.4" cy="54.4" r="0.77"/><circle cx="479.0" cy="56.6" r="0.79"/><circle cx="475.2" cy="53.8" r="0.82"/><circle cx="476.9" cy="52.1" r="0.52"/><circle cx="480.4" cy="54.1" r="0.53"/><circle cx="476.6" cy="50.9" r="0.61"/><circle cx="472.0" cy="52.6" r="0.59"/><circle cx="479.6" cy="54.7" r="0.61"/><circle cx="481.9" cy="51.0" r="0.65"/><circle cx="478.7" cy="53.6" r="0.54"/><circle cx="480.5" cy="50.1" r="0.55"/><circle cx="477.6" cy="52.4" r="0.68"/><circle cx="477.7" cy="54.0" r="0.76"/><circle cx="477.6" cy="50.2" r="0.56"/><circle cx="476.9" cy="50.7" r="0.73"/><circle cx="483.2" cy="55.9" r="0.50"/><circle cx="478.8" cy="55.4" r="0.57"/><circle cx="481.8" cy="54.9" r="0.85"/><circle cx="477.2" cy="54.6" r="0.73"/><circle cx="478.8" cy="55.4" r="0.74"/><circle cx="476.9" cy="53.6" r="0.52"/><circle cx="470.3" cy="51.0" r="0.82"/><circle cx="480.9" cy="54.7" r="0.67"/><circle cx="479.7" cy="56.4" r="0.67"/><circle cx="479.1" cy="51.1" r="0.83"/><circle cx="479.5" cy="50.5" r="0.55"/><circle cx="476.9" cy="53.1" r="0.74"/><circle cx="477.2" cy="50.0" r="0.84"/><circle cx="482.4" cy="54.1" r="0.78"/><circle cx="480.1" cy="54.4" r="0.52"/><circle cx="474.5" cy="51.1" r="0.62"/><circle cx="477.4" cy="50.8" r="0.75"/><circle cx="477.0" cy="59.6" r="0.65"/><circle cx="502.4" cy="54.5" r="0.75"/><circle cx="503.5" cy="52.4" r="0.55"/><circle cx="503.8" cy="52.2" r="0.54"/><circle cx="499.0" cy="56.5" r="0.50"/><circle cx="503.4" cy="55.0" r="0.81"/><circle cx="503.3" cy="54.5" r="0.82"/><circle cx="502.4" cy="50.6" r="0.71"/><circle cx="504.5" cy="54.0" r="0.83"/><circle cx="500.1" cy="54.0" r="0.68"/><circle cx="499.4" cy="54.7" r="0.63"/><circle cx="498.5" cy="54.3" r="0.58"/><circle cx="501.0" cy="56.8" r="0.68"/><circle cx="498.6" cy="55.9" r="0.56"/><circle cx="499.7" cy="54.2" r="0.77"/><circle cx="500.3" cy="51.2" r="0.68"/><circle cx="501.4" cy="59.0" r="0.68"/><circle cx="500.1" cy="55.7" r="0.64"/><circle cx="500.4" cy="51.0" r="0.67"/><circle cx="501.2" cy="53.1" r="0.66"/><circle cx="500.2" cy="55.8" r="0.63"/><circle cx="501.5" cy="51.3" r="0.57"/><circle cx="501.8" cy="58.0" r="0.73"/><circle cx="500.0" cy="52.0" r="0.74"/><circle cx="501.3" cy="55.2" r="0.63"/><circle cx="506.9" cy="55.5" r="0.68"/><circle cx="498.6" cy="50.0" r="0.78"/><circle cx="501.7" cy="56.3" r="0.54"/><circle cx="502.4" cy="51.4" r="0.67"/><circle cx="500.2" cy="55.6" r="0.67"/><circle cx="500.3" cy="50.4" r="0.80"/><circle cx="503.0" cy="52.9" r="0.65"/><circle cx="499.1" cy="59.4" r="0.56"/><circle cx="502.4" cy="55.8" r="0.82"/><circle cx="502.6" cy="53.1" r="0.80"/><circle cx="503.2" cy="53.2" r="0.57"/><circle cx="501.7" cy="52.6" r="0.54"/><circle cx="503.3" cy="53.3" r="0.64"/><circle cx="500.0" cy="53.6" r="0.51"/><circle cx="499.7" cy="55.7" r="0.50"/><circle cx="498.8" cy="56.9" r="0.62"/></g>
<circle cx="455.5" cy="41.5" r="0.7" fill="#9860d0"/>
<circle cx="483.7" cy="42.9" r="0.7" fill="#9860d0"/>
<circle cx="492.5" cy="53.9" r="0.7" fill="#9860d0"/>
<circle cx="452.5" cy="49.5" r="0.7" fill="#9860d0"/>
<circle cx="461.5" cy="75.0" r="0.7" fill="#9860d0"/>
<circle cx="468.9" cy="50.4" r="4.9" fill="#c4b6ee" filter="url(#b03)"/>
<circle cx="468.8" cy="50.3" r="4.0" fill="#45249c" filter="url(#b03)"/>
<circle cx="468.5" cy="50.2" r="2.6" fill="#3a1a90" filter="url(#b03)"/>
<path d="M461.8,61.0 L469.3,56.4 L467.1,64.6 Z" fill="#d02b26"/>
</g>
<text x="487.8" y="79.8" font-size="6.4" text-anchor="start" fill="#111" stroke="#111" stroke-width="0.15" textLength="15.6" lengthAdjust="spacingAndGlyphs" >20um</text>
<line x1="487.0" y1="83.5" x2="504.6" y2="83.5" stroke="#555" stroke-width="1.0"/>
<text x="26.4" y="141.9" font-size="9.9" text-anchor="start" fill="#111" stroke="#111" stroke-width="0.08" textLength="136.4" lengthAdjust="spacingAndGlyphs" >Total platelet leukocyte aggregates</text>
<text x="0" y="0" font-size="8.6" fill="#111" stroke="#111" stroke-width="0.35" text-anchor="middle" textLength="93" lengthAdjust="spacingAndGlyphs" transform="translate(15,193.5) rotate(-90)">% of peripheral blood leukocytes</text>
<line x1="34.5" y1="155.7" x2="34.5" y2="232.3" stroke="#111" stroke-width="1.1"/>
<line x1="31.6" y1="158.5" x2="34.2" y2="158.5" stroke="#111" stroke-width="0.9"/>
<text x="28.9" y="160.89999999999998" font-size="7.6" text-anchor="end" fill="#111" stroke="#111" stroke-width="0.25" >50</text>
<line x1="31.6" y1="172.5" x2="34.2" y2="172.5" stroke="#111" stroke-width="0.9"/>
<text x="28.9" y="175.6" font-size="7.6" text-anchor="end" fill="#111" stroke="#111" stroke-width="0.25" >40</text>
<line x1="31.6" y1="187.5" x2="34.2" y2="187.5" stroke="#111" stroke-width="0.9"/>
<text x="28.9" y="190.29999999999998" font-size="7.6" text-anchor="end" fill="#111" stroke="#111" stroke-width="0.25" >30</text>
<line x1="31.6" y1="202.5" x2="34.2" y2="202.5" stroke="#111" stroke-width="0.9"/>
<text x="28.9" y="205.0" font-size="7.6" text-anchor="end" fill="#111" stroke="#111" stroke-width="0.25" >20</text>
<line x1="31.6" y1="217.5" x2="34.2" y2="217.5" stroke="#111" stroke-width="0.9"/>
<text x="28.9" y="219.7" font-size="7.6" text-anchor="end" fill="#111" stroke="#111" stroke-width="0.25" >10</text>
<line x1="31.6" y1="231.5" x2="34.2" y2="231.5" stroke="#111" stroke-width="0.9"/>
<text x="28.9" y="234.39999999999998" font-size="7.6" text-anchor="end" fill="#111" stroke="#111" stroke-width="0.25" >0</text>
<line x1="34.2" y1="231.5" x2="155.1" y2="231.5" stroke="#111" stroke-width="1.1"/>
<line x1="47.5" y1="231.8" x2="47.5" y2="234.0" stroke="#111" stroke-width="0.9"/>
<line x1="78.5" y1="231.8" x2="78.5" y2="234.0" stroke="#111" stroke-width="0.9"/>
<line x1="110.5" y1="231.8" x2="110.5" y2="234.0" stroke="#111" stroke-width="0.9"/>
<line x1="142.5" y1="231.8" x2="142.5" y2="234.0" stroke="#111" stroke-width="0.9"/>
<circle cx="52.4" cy="173.4" r="2.2" fill="#1b3f84"/>
<circle cx="52.4" cy="182.6" r="2.2" fill="#1b3f84"/>
<circle cx="49.9" cy="208.1" r="2.2" fill="#1b3f84"/>
<circle cx="51.3" cy="206.6" r="2.2" fill="#1b3f84"/>
<circle cx="55.3" cy="206.4" r="2.2" fill="#1b3f84"/>
<circle cx="54.1" cy="212.7" r="2.2" fill="#1b3f84"/>
<circle cx="51.6" cy="221.3" r="2.2" fill="#1b3f84"/>
<circle cx="52.7" cy="222.7" r="2.2" fill="#1b3f84"/>
<line x1="38.0" y1="223.5" x2="45.2" y2="223.5" stroke="#222" stroke-width="1.0"/>
<circle cx="38.8" cy="216.4" r="2.2" fill="#c2112f"/>
<circle cx="43.4" cy="217.7" r="2.2" fill="#c2112f"/>
<circle cx="41.0" cy="224.4" r="2.2" fill="#c2112f"/>
<circle cx="42.6" cy="224.6" r="2.2" fill="#c2112f"/>
<circle cx="41.8" cy="226.4" r="2.2" fill="#c2112f"/>
<path d="M41.5,164.5 V162.5 H52.5 V164.5" fill="none" stroke="#222" stroke-width="1.0"/>
<circle cx="47.3" cy="158.4" r="0.8" fill="#111"/>
<circle cx="70.5" cy="222.0" r="2.2" fill="#c2112f"/>
<circle cx="73.5" cy="221.5" r="2.2" fill="#c2112f"/>
<circle cx="75.3" cy="222.2" r="2.2" fill="#c2112f"/>
<circle cx="72.0" cy="224.5" r="2.2" fill="#c2112f"/>
<circle cx="73.5" cy="225.5" r="2.2" fill="#c2112f"/>
<circle cx="84.2" cy="169.8" r="2.2" fill="#1b3f84"/>
<circle cx="82.0" cy="202.0" r="2.2" fill="#1b3f84"/>
<circle cx="87.0" cy="201.4" r="2.2" fill="#1b3f84"/>
<circle cx="84.4" cy="209.5" r="2.2" fill="#1b3f84"/>
<circle cx="82.0" cy="218.7" r="2.2" fill="#1b3f84"/>
<circle cx="87.0" cy="218.7" r="2.2" fill="#1b3f84"/>
<path d="M73.5,164.5 V162.5 H84.5 V164.5" fill="none" stroke="#222" stroke-width="1.0"/>
<circle cx="79.0" cy="158.4" r="0.8" fill="#111"/>
<circle cx="105.2" cy="215.6" r="2.2" fill="#c2112f"/>
<circle cx="102.6" cy="225.0" r="2.2" fill="#c2112f"/>
<circle cx="105.0" cy="226.2" r="2.2" fill="#c2112f"/>
<circle cx="107.2" cy="225.0" r="2.2" fill="#c2112f"/>
<circle cx="104.2" cy="227.0" r="2.2" fill="#c2112f"/>
<circle cx="115.8" cy="189.2" r="2.2" fill="#1b3f84"/>
<circle cx="114.0" cy="197.0" r="2.2" fill="#1b3f84"/>
<circle cx="118.6" cy="196.0" r="2.2" fill="#1b3f84"/>
<circle cx="116.1" cy="205.2" r="2.2" fill="#1b3f84"/>
<circle cx="115.8" cy="229.4" r="2.2" fill="#1b3f84"/>
<path d="M104.5,182.5 V180.5 H115.5 V182.5" fill="none" stroke="#222" stroke-width="1.0"/>
<circle cx="110.1" cy="175.5" r="0.8" fill="#111"/>
<circle cx="137.7" cy="214.2" r="2.2" fill="#c2112f"/>
<circle cx="135.5" cy="217.6" r="2.2" fill="#c2112f"/>
<circle cx="137.0" cy="219.4" r="2.2" fill="#c2112f"/>
<circle cx="139.5" cy="221.5" r="2.2" fill="#c2112f"/>
<circle cx="134.8" cy="225.5" r="2.2" fill="#c2112f"/>
<circle cx="147.6" cy="202.0" r="2.2" fill="#1b3f84"/>
<circle cx="147.6" cy="209.8" r="2.2" fill="#1b3f84"/>
<circle cx="144.8" cy="215.9" r="2.2" fill="#1b3f84"/>
<circle cx="149.5" cy="220.1" r="2.2" fill="#1b3f84"/>
<circle cx="147.6" cy="228.6" r="2.2" fill="#1b3f84"/>
<path d="M52.5,200.5 V213.5 M50.5,200.5 h4.0 M50.5,213.5 h4.0" fill="none" stroke="#222" stroke-width="1.0"/>
<path d="M84.5,196.5 V210.5 M82.5,196.5 h4.0 M82.5,210.5 h4.0" fill="none" stroke="#222" stroke-width="1.0"/>
<path d="M105.5,219.5 V223.5 M104.0,219.5 h3 M104.0,223.5 h3" fill="none" stroke="#222" stroke-width="1.0"/>
<line x1="102.5" y1="221.5" x2="108.5" y2="221.5" stroke="#222" stroke-width="1.0"/>
<path d="M115.5,196.5 V210.5 M113.5,196.5 h4.0 M113.5,210.5 h4.0" fill="none" stroke="#222" stroke-width="1.0"/>
<path d="M136.5,217.5 V222.5 M135.0,217.5 h3 M135.0,222.5 h3" fill="none" stroke="#222" stroke-width="1.0"/>
<line x1="133.5" y1="219.5" x2="139.5" y2="219.5" stroke="#222" stroke-width="1.0"/>
<path d="M147.5,208.5 V222.5 M145.5,208.5 h4.0 M145.5,222.5 h4.0" fill="none" stroke="#222" stroke-width="1.0"/>
<text x="35.5" y="247.3" font-size="8.2" text-anchor="start" fill="#111" stroke="#111" stroke-width="0.25" textLength="17.0" lengthAdjust="spacingAndGlyphs" >JAK2</text>
<text x="53.099999999999994" y="244.4" font-size="4.6" text-anchor="start" fill="#333" textLength="6.6" lengthAdjust="spacingAndGlyphs" >WT</text>
<text x="66.7" y="247.3" font-size="8.2" text-anchor="start" fill="#111" stroke="#111" stroke-width="0.25" textLength="17.0" lengthAdjust="spacingAndGlyphs" >JAK2</text>
<text x="84.3" y="244.4" font-size="4.6" text-anchor="start" fill="#333" textLength="6.6" lengthAdjust="spacingAndGlyphs" >WT</text>
<text x="78.5" y="256.5" font-size="8.2" text-anchor="middle" fill="#111" stroke="#111" stroke-width="0.25" textLength="20.0" lengthAdjust="spacingAndGlyphs" >+NAC</text>
<text x="96.3" y="247.3" font-size="8.2" text-anchor="start" fill="#111" stroke="#111" stroke-width="0.25" textLength="17.0" lengthAdjust="spacingAndGlyphs" >JAK2</text>
<text x="113.9" y="244.4" font-size="4.6" text-anchor="start" fill="#333" textLength="11.2" lengthAdjust="spacingAndGlyphs" >V617F</text>
<text x="128.10000000000002" y="247.3" font-size="8.2" text-anchor="start" fill="#111" stroke="#111" stroke-width="0.25" textLength="17.0" lengthAdjust="spacingAndGlyphs" >JAK2</text>
<text x="145.70000000000002" y="244.4" font-size="4.6" text-anchor="start" fill="#333" textLength="11.2" lengthAdjust="spacingAndGlyphs" >V617F</text>
<text x="142.3" y="256.5" font-size="8.2" text-anchor="middle" fill="#111" stroke="#111" stroke-width="0.25" textLength="20.0" lengthAdjust="spacingAndGlyphs" >+NAC</text>
<text x="207.6" y="141.8" font-size="9.9" text-anchor="start" fill="#111" stroke="#111" stroke-width="0.08" textLength="118.5" lengthAdjust="spacingAndGlyphs" >Platelet neutrophil aggregates</text>
<text x="0" y="0" font-size="8.6" fill="#111" stroke="#111" stroke-width="0.35" text-anchor="middle" textLength="89" lengthAdjust="spacingAndGlyphs" transform="translate(183.8,194.1) rotate(-90)">% of CD11b<tspan font-size="5" dy="-2.8">+</tspan><tspan dy="2.8">/Ly6G</tspan><tspan font-size="5" dy="-2.8">+</tspan><tspan dy="2.8"> neutrophils</tspan></text>
<line x1="207.5" y1="156.5" x2="207.5" y2="232.2" stroke="#111" stroke-width="1.1"/>
<line x1="204.70000000000002" y1="159.5" x2="207.3" y2="159.5" stroke="#111" stroke-width="0.9"/>
<text x="201.9" y="162.2" font-size="7.6" text-anchor="end" fill="#111" stroke="#111" stroke-width="0.25" >100</text>
<line x1="204.70000000000002" y1="174.5" x2="207.3" y2="174.5" stroke="#111" stroke-width="0.9"/>
<text x="201.9" y="176.7" font-size="7.6" text-anchor="end" fill="#111" stroke="#111" stroke-width="0.25" >80</text>
<line x1="204.70000000000002" y1="188.5" x2="207.3" y2="188.5" stroke="#111" stroke-width="0.9"/>
<text x="201.9" y="191.1" font-size="7.6" text-anchor="end" fill="#111" stroke="#111" stroke-width="0.25" >60</text>
<line x1="204.70000000000002" y1="202.5" x2="207.3" y2="202.5" stroke="#111" stroke-width="0.9"/>
<text x="201.9" y="205.5" font-size="7.6" text-anchor="end" fill="#111" stroke="#111" stroke-width="0.25" >40</text>
<line x1="204.70000000000002" y1="217.5" x2="207.3" y2="217.5" stroke="#111" stroke-width="0.9"/>
<text x="201.9" y="219.89999999999998" font-size="7.6" text-anchor="end" fill="#111" stroke="#111" stroke-width="0.25" >20</text>
<line x1="204.70000000000002" y1="231.5" x2="207.3" y2="231.5" stroke="#111" stroke-width="0.9"/>
<text x="201.9" y="234.39999999999998" font-size="7.6" text-anchor="end" fill="#111" stroke="#111" stroke-width="0.25" >0</text>
<line x1="207.3" y1="231.5" x2="325.0" y2="231.5" stroke="#111" stroke-width="1.1"/>
<line x1="220.5" y1="231.7" x2="220.5" y2="233.89999999999998" stroke="#111" stroke-width="0.9"/>
<line x1="251.5" y1="231.7" x2="251.5" y2="233.89999999999998" stroke="#111" stroke-width="0.9"/>
<line x1="282.5" y1="231.7" x2="282.5" y2="233.89999999999998" stroke="#111" stroke-width="0.9"/>
<line x1="313.5" y1="231.7" x2="313.5" y2="233.89999999999998" stroke="#111" stroke-width="0.9"/>
<circle cx="214.9" cy="215.9" r="2.2" fill="#c2112f"/>
<circle cx="213.5" cy="226.0" r="2.2" fill="#c2112f"/>
<circle cx="215.5" cy="227.6" r="2.2" fill="#c2112f"/>
<circle cx="214.5" cy="229.3" r="2.2" fill="#c2112f"/>
<circle cx="216.0" cy="225.2" r="2.2" fill="#c2112f"/>
<line x1="212.0" y1="225.5" x2="218.0" y2="225.5" stroke="#222" stroke-width="1.0"/>
<circle cx="225.3" cy="166.6" r="2.2" fill="#1b3f84"/>
<circle cx="225.3" cy="178.7" r="2.2" fill="#1b3f84"/>
<circle cx="228.1" cy="183.6" r="2.2" fill="#1b3f84"/>
<circle cx="223.2" cy="186.3" r="2.2" fill="#1b3f84"/>
<circle cx="225.3" cy="199.4" r="2.2" fill="#1b3f84"/>
<circle cx="223.4" cy="225.3" r="2.2" fill="#1b3f84"/>
<circle cx="228.1" cy="222.7" r="2.2" fill="#1b3f84"/>
<path d="M214.5,161.5 V159.5 H225.5 V161.5" fill="none" stroke="#222" stroke-width="1.0"/>
<circle cx="218.79999999999998" cy="155.4" r="0.8" fill="#111"/><circle cx="221.4" cy="155.4" r="0.8" fill="#111"/>
<circle cx="247.1" cy="218.8" r="2.2" fill="#c2112f"/>
<circle cx="244.5" cy="227.0" r="2.2" fill="#c2112f"/>
<circle cx="247.0" cy="228.0" r="2.2" fill="#c2112f"/>
<circle cx="249.5" cy="226.0" r="2.2" fill="#c2112f"/>
<circle cx="250.0" cy="225.5" r="2.2" fill="#c2112f"/>
<line x1="244.0" y1="225.5" x2="250.5" y2="225.5" stroke="#222" stroke-width="1.0"/>
<circle cx="257.0" cy="182.8" r="2.2" fill="#1b3f84"/>
<circle cx="258.8" cy="184.3" r="2.2" fill="#1b3f84"/>
<circle cx="257.7" cy="185.7" r="2.2" fill="#1b3f84"/>
<circle cx="257.5" cy="213.4" r="2.2" fill="#1b3f84"/>
<circle cx="257.5" cy="221.7" r="2.2" fill="#1b3f84"/>
<path d="M246.5,178.5 V176.5 H257.5 V178.5" fill="none" stroke="#222" stroke-width="1.0"/>
<circle cx="252.0" cy="172.2" r="0.8" fill="#111"/>
<circle cx="276.7" cy="213.8" r="2.2" fill="#c2112f"/>
<circle cx="276.7" cy="220.6" r="2.2" fill="#c2112f"/>
<circle cx="279.6" cy="225.3" r="2.2" fill="#c2112f"/>
<circle cx="274.9" cy="228.1" r="2.2" fill="#c2112f"/>
<circle cx="290.3" cy="170.5" r="2.2" fill="#1b3f84"/>
<circle cx="285.4" cy="174.4" r="2.2" fill="#1b3f84"/>
<circle cx="287.4" cy="189.2" r="2.2" fill="#1b3f84"/>
<circle cx="287.4" cy="226.7" r="2.2" fill="#1b3f84"/>
<path d="M275.5,161.5 V159.5 H285.5 V161.5" fill="none" stroke="#222" stroke-width="1.0"/>
<circle cx="280.7" cy="155.4" r="0.8" fill="#111"/>
<circle cx="311.5" cy="199.8" r="2.2" fill="#c2112f"/>
<circle cx="307.0" cy="204.3" r="2.2" fill="#c2112f"/>
<circle cx="306.1" cy="213.9" r="2.2" fill="#c2112f"/>
<circle cx="310.4" cy="217.3" r="2.2" fill="#c2112f"/>
<circle cx="311.4" cy="221.7" r="2.2" fill="#c2112f"/>
<circle cx="307.1" cy="226.3" r="2.2" fill="#c2112f"/>
<circle cx="319.5" cy="188.7" r="2.2" fill="#1b3f84"/>
<circle cx="316.6" cy="192.0" r="2.2" fill="#1b3f84"/>
<circle cx="321.2" cy="196.7" r="2.2" fill="#1b3f84"/>
<circle cx="319.5" cy="203.4" r="2.2" fill="#1b3f84"/>
<circle cx="319.6" cy="214.9" r="2.2" fill="#1b3f84"/>
<circle cx="319.6" cy="222.0" r="2.2" fill="#1b3f84"/>
<path d="M225.5,186.5 V203.5 M223.5,186.5 h4.0 M223.5,203.5 h4.0" fill="none" stroke="#222" stroke-width="1.0"/>
<path d="M257.5,189.5 V205.5 M255.5,189.5 h4.0 M255.5,205.5 h4.0" fill="none" stroke="#222" stroke-width="1.0"/>
<path d="M277.5,218.5 V224.5 M275.75,218.5 h3.5 M275.75,224.5 h3.5" fill="none" stroke="#222" stroke-width="1.0"/>
<line x1="273.5" y1="221.5" x2="281.5" y2="221.5" stroke="#222" stroke-width="1.0"/>
<path d="M287.5,177.5 V202.5 M285.5,177.5 h4.0 M285.5,202.5 h4.0" fill="none" stroke="#222" stroke-width="1.0"/>
<path d="M309.5,209.5 V218.5 M307.5,209.5 h4 M307.5,218.5 h4" fill="none" stroke="#222" stroke-width="1.0"/>
<line x1="305.5" y1="213.5" x2="313.5" y2="213.5" stroke="#222" stroke-width="1.0"/>
<path d="M319.5,197.5 V208.5 M317.5,197.5 h4.0 M317.5,208.5 h4.0" fill="none" stroke="#222" stroke-width="1.0"/>
<text x="208.5" y="247.0" font-size="8.2" text-anchor="start" fill="#111" stroke="#111" stroke-width="0.25" textLength="17.0" lengthAdjust="spacingAndGlyphs" >JAK2</text>
<text x="226.10000000000002" y="244.1" font-size="4.6" text-anchor="start" fill="#333" textLength="6.6" lengthAdjust="spacingAndGlyphs" >WT</text>
<text x="239.5" y="247.0" font-size="8.2" text-anchor="start" fill="#111" stroke="#111" stroke-width="0.25" textLength="17.0" lengthAdjust="spacingAndGlyphs" >JAK2</text>
<text x="257.1" y="244.1" font-size="4.6" text-anchor="start" fill="#333" textLength="6.6" lengthAdjust="spacingAndGlyphs" >WT</text>
<text x="251.3" y="256.2" font-size="8.2" text-anchor="middle" fill="#111" stroke="#111" stroke-width="0.25" textLength="20.0" lengthAdjust="spacingAndGlyphs" >+NAC</text>
<text x="268.2" y="247.0" font-size="8.2" text-anchor="start" fill="#111" stroke="#111" stroke-width="0.25" textLength="17.0" lengthAdjust="spacingAndGlyphs" >JAK2</text>
<text x="285.79999999999995" y="244.1" font-size="4.6" text-anchor="start" fill="#333" textLength="11.2" lengthAdjust="spacingAndGlyphs" >V617F</text>
<text x="299.40000000000003" y="247.0" font-size="8.2" text-anchor="start" fill="#111" stroke="#111" stroke-width="0.25" textLength="17.0" lengthAdjust="spacingAndGlyphs" >JAK2</text>
<text x="317.0" y="244.1" font-size="4.6" text-anchor="start" fill="#333" textLength="11.2" lengthAdjust="spacingAndGlyphs" >V617F</text>
<text x="313.6" y="256.2" font-size="8.2" text-anchor="middle" fill="#111" stroke="#111" stroke-width="0.25" textLength="20.0" lengthAdjust="spacingAndGlyphs" >+NAC</text>
<text x="366.4" y="142.0" font-size="9.9" text-anchor="start" fill="#111" stroke="#111" stroke-width="0.08" textLength="51.4" lengthAdjust="spacingAndGlyphs" >Human PLAs</text>
<text x="0" y="0" font-size="8.6" fill="#111" stroke="#111" stroke-width="0.35" text-anchor="middle" textLength="91.4" lengthAdjust="spacingAndGlyphs" transform="translate(345.6,195.3) rotate(-90)">% of peripheral blood leukocytes</text>
<rect x="372.1" y="219.5" width="16.3" height="12.3" fill="#fff" stroke="#111" stroke-width="1"/>
<rect x="395.5" y="210.6" width="16.0" height="21.2" fill="#fff" stroke="#111" stroke-width="1"/>
<line x1="364.5" y1="159.3" x2="364.5" y2="232.3" stroke="#111" stroke-width="1.1"/>
<line x1="362.2" y1="161.5" x2="364.8" y2="161.5" stroke="#111" stroke-width="0.9"/>
<text x="358.9" y="164.6" font-size="7.6" text-anchor="end" fill="#111" stroke="#111" stroke-width="0.25" >30</text>
<line x1="362.2" y1="185.5" x2="364.8" y2="185.5" stroke="#111" stroke-width="0.9"/>
<text x="358.9" y="187.79999999999998" font-size="7.6" text-anchor="end" fill="#111" stroke="#111" stroke-width="0.25" >20</text>
<line x1="362.2" y1="208.5" x2="364.8" y2="208.5" stroke="#111" stroke-width="0.9"/>
<text x="358.9" y="211.1" font-size="7.6" text-anchor="end" fill="#111" stroke="#111" stroke-width="0.25" >10</text>
<line x1="362.2" y1="231.5" x2="364.8" y2="231.5" stroke="#111" stroke-width="0.9"/>
<text x="358.9" y="234.39999999999998" font-size="7.6" text-anchor="end" fill="#111" stroke="#111" stroke-width="0.25" >0</text>
<line x1="362.3" y1="231.5" x2="418.6" y2="231.5" stroke="#111" stroke-width="1.1"/>
<line x1="380.5" y1="231.8" x2="380.5" y2="234.0" stroke="#111" stroke-width="0.9"/>
<line x1="403.5" y1="231.8" x2="403.5" y2="234.0" stroke="#111" stroke-width="0.9"/>
<circle cx="380.1" cy="203.2" r="1.4" fill="#c2112f"/>
<circle cx="382.2" cy="212.8" r="1.4" fill="#c2112f"/>
<circle cx="377.8" cy="217.4" r="1.4" fill="#c2112f"/>
<circle cx="375.1" cy="220.9" r="1.4" fill="#c2112f"/>
<circle cx="384.4" cy="218.6" r="1.4" fill="#c2112f"/>
<circle cx="376.9" cy="221.8" r="1.4" fill="#c2112f"/>
<circle cx="381.3" cy="222.2" r="1.4" fill="#c2112f"/>
<circle cx="384.9" cy="222.4" r="1.4" fill="#c2112f"/>
<circle cx="378.7" cy="224.8" r="1.4" fill="#c2112f"/>
<circle cx="380.8" cy="226.2" r="1.4" fill="#c2112f"/>
<circle cx="403.2" cy="186.8" r="1.75" fill="#1b3f84"/>
<circle cx="403.2" cy="193.9" r="1.75" fill="#1b3f84"/>
<circle cx="399.1" cy="202.2" r="1.75" fill="#1b3f84"/>
<circle cx="403.5" cy="203.3" r="1.75" fill="#1b3f84"/>
<circle cx="407.4" cy="202.2" r="1.75" fill="#1b3f84"/>
<circle cx="399.1" cy="208.5" r="1.75" fill="#1b3f84"/>
<circle cx="403.5" cy="209.2" r="1.75" fill="#1b3f84"/>
<circle cx="408.0" cy="208.0" r="1.75" fill="#1b3f84"/>
<circle cx="398.8" cy="214.5" r="1.75" fill="#1b3f84"/>
<circle cx="401.5" cy="215.5" r="1.75" fill="#1b3f84"/>
<circle cx="404.5" cy="214.8" r="1.75" fill="#1b3f84"/>
<circle cx="407.5" cy="215.5" r="1.75" fill="#1b3f84"/>
<circle cx="400.0" cy="217.5" r="1.75" fill="#1b3f84"/>
<circle cx="403.0" cy="218.0" r="1.75" fill="#1b3f84"/>
<circle cx="406.0" cy="217.8" r="1.75" fill="#1b3f84"/>
<circle cx="408.5" cy="218.2" r="1.75" fill="#1b3f84"/>
<circle cx="398.5" cy="219.5" r="1.75" fill="#1b3f84"/>
<circle cx="402.0" cy="220.0" r="1.75" fill="#1b3f84"/>
<circle cx="405.5" cy="220.5" r="1.75" fill="#1b3f84"/>
<circle cx="401.4" cy="223.2" r="1.75" fill="#1b3f84"/>
<circle cx="405.6" cy="222.8" r="1.75" fill="#1b3f84"/>
<circle cx="402.5" cy="213.2" r="1.75" fill="#1b3f84"/>
<circle cx="399.8" cy="212.6" r="1.75" fill="#1b3f84"/>
<circle cx="406.5" cy="212.8" r="1.75" fill="#1b3f84"/>
<circle cx="403.5" cy="216.3" r="1.75" fill="#1b3f84"/>
<circle cx="400.6" cy="219.2" r="1.75" fill="#1b3f84"/>
<circle cx="404.2" cy="221.4" r="1.75" fill="#1b3f84"/>
<path d="M380.5,217.5 V221.5 M378.75,217.5 h3.5 M378.75,221.5 h3.5" fill="none" stroke="#222" stroke-width="1.0"/>
<path d="M403.5,210.5 V216.5 M401.5,210.5 h4 M401.5,216.5 h4" fill="none" stroke="#222" stroke-width="1.0"/>
<line x1="399.5" y1="213.5" x2="407.5" y2="213.5" stroke="#222" stroke-width="1.0"/>
<path d="M380.5,178.5 V175.5 H403.5 V178.5" fill="none" stroke="#222" stroke-width="1.0"/>
<text x="376.0" y="170.4" font-size="7.2" text-anchor="start" fill="#111" stroke="#111" stroke-width="0.1" textLength="32.0" lengthAdjust="spacingAndGlyphs" >p=0.0095</text>
<text x="380.5" y="244.6" font-size="8.0" text-anchor="middle" fill="#111" stroke="#111" stroke-width="0.25" textLength="23.1" lengthAdjust="spacingAndGlyphs" >Normal</text>
<text x="403.6" y="244.6" font-size="8.0" text-anchor="middle" fill="#111" stroke="#111" stroke-width="0.25" textLength="9.0" lengthAdjust="spacingAndGlyphs" >PV</text>
<text x="459.0" y="142.0" font-size="9.9" text-anchor="start" fill="#111" stroke="#111" stroke-width="0.08" textLength="53.6" lengthAdjust="spacingAndGlyphs" >Human PNAs</text>
<text x="0" y="0" font-size="8.6" fill="#111" stroke="#111" stroke-width="0.35" text-anchor="middle" textLength="94.4" lengthAdjust="spacingAndGlyphs" transform="translate(438.7,194.7) rotate(-90)">% of CD11b<tspan font-size="5" dy="-2.8">+</tspan><tspan dy="2.8">/CD66b</tspan><tspan font-size="5" dy="-2.8">+</tspan><tspan dy="2.8"> neutrophils</tspan></text>
<rect x="466.2" y="218.6" width="15.5" height="13.2" fill="#fff" stroke="#111" stroke-width="1"/>
<rect x="489.6" y="212.7" width="16.0" height="19.1" fill="#fff" stroke="#111" stroke-width="1"/>
<line x1="457.5" y1="158.0" x2="457.5" y2="232.3" stroke="#111" stroke-width="1.1"/>
<line x1="455.09999999999997" y1="160.5" x2="457.7" y2="160.5" stroke="#111" stroke-width="0.9"/>
<text x="452.8" y="162.79999999999998" font-size="7.6" text-anchor="end" fill="#111" stroke="#111" stroke-width="0.25" >30</text>
<line x1="455.09999999999997" y1="183.5" x2="457.7" y2="183.5" stroke="#111" stroke-width="0.9"/>
<text x="452.8" y="186.6" font-size="7.6" text-anchor="end" fill="#111" stroke="#111" stroke-width="0.25" >20</text>
<line x1="455.09999999999997" y1="207.5" x2="457.7" y2="207.5" stroke="#111" stroke-width="0.9"/>
<text x="452.8" y="210.6" font-size="7.6" text-anchor="end" fill="#111" stroke="#111" stroke-width="0.25" >10</text>
<line x1="455.09999999999997" y1="231.5" x2="457.7" y2="231.5" stroke="#111" stroke-width="0.9"/>
<text x="452.8" y="234.39999999999998" font-size="7.6" text-anchor="end" fill="#111" stroke="#111" stroke-width="0.25" >0</text>
<line x1="456.8" y1="231.5" x2="512.7" y2="231.5" stroke="#111" stroke-width="1.1"/>
<line x1="474.5" y1="231.8" x2="474.5" y2="234.0" stroke="#111" stroke-width="0.9"/>
<line x1="497.5" y1="231.8" x2="497.5" y2="234.0" stroke="#111" stroke-width="0.9"/>
<circle cx="474.0" cy="200.0" r="1.45" fill="#c2112f"/>
<circle cx="474.0" cy="206.5" r="1.45" fill="#c2112f"/>
<circle cx="468.0" cy="221.5" r="1.45" fill="#c2112f"/>
<circle cx="471.0" cy="220.0" r="1.45" fill="#c2112f"/>
<circle cx="475.0" cy="219.6" r="1.45" fill="#c2112f"/>
<circle cx="478.0" cy="221.5" r="1.45" fill="#c2112f"/>
<circle cx="480.0" cy="220.5" r="1.45" fill="#c2112f"/>
<circle cx="466.8" cy="219.8" r="1.45" fill="#c2112f"/>
<circle cx="468.4" cy="223.4" r="1.45" fill="#c2112f"/>
<circle cx="479.9" cy="223.4" r="1.45" fill="#c2112f"/>
<circle cx="471.9" cy="227.3" r="1.45" fill="#c2112f"/>
<circle cx="475.5" cy="222.6" r="1.45" fill="#c2112f"/>
<circle cx="470.5" cy="222.6" r="1.45" fill="#c2112f"/>
<circle cx="477.2" cy="223.2" r="1.45" fill="#c2112f"/>
<circle cx="473.2" cy="220.8" r="1.45" fill="#c2112f"/>
<circle cx="497.1" cy="172.1" r="1.45" fill="#1b3f84"/>
<circle cx="497.1" cy="192.8" r="1.45" fill="#1b3f84"/>
<circle cx="497.1" cy="202.1" r="1.45" fill="#1b3f84"/>
<circle cx="495.3" cy="207.4" r="1.45" fill="#1b3f84"/>
<circle cx="497.6" cy="207.4" r="1.45" fill="#1b3f84"/>
<circle cx="501.2" cy="212.4" r="1.45" fill="#1b3f84"/>
<circle cx="493.2" cy="217.7" r="1.45" fill="#1b3f84"/>
<circle cx="496.7" cy="217.2" r="1.45" fill="#1b3f84"/>
<circle cx="499.4" cy="218.9" r="1.45" fill="#1b3f84"/>
<circle cx="501.2" cy="220.7" r="1.45" fill="#1b3f84"/>
<circle cx="494.1" cy="221.6" r="1.45" fill="#1b3f84"/>
<circle cx="497.6" cy="223.0" r="1.45" fill="#1b3f84"/>
<circle cx="499.4" cy="226.6" r="1.45" fill="#1b3f84"/>
<circle cx="495.9" cy="228.3" r="1.45" fill="#1b3f84"/>
<path d="M474.5,216.5 V221.5 M472.5,216.5 h4 M472.5,221.5 h4" fill="none" stroke="#222" stroke-width="1.0"/>
<path d="M497.5,208.5 V216.5 M495.5,208.5 h4 M495.5,216.5 h4" fill="none" stroke="#222" stroke-width="1.0"/>
<line x1="493.5" y1="212.5" x2="501.5" y2="212.5" stroke="#222" stroke-width="1.0"/>
<path d="M474.5,168.3 V165.5 H497.5 V168.3" fill="none" stroke="#222" stroke-width="1.0"/>
<text x="474.6" y="160.2" font-size="7.2" text-anchor="start" fill="#111" stroke="#111" stroke-width="0.1" textLength="22.5" lengthAdjust="spacingAndGlyphs" >p=0.17</text>
<text x="474.0" y="244.3" font-size="8.0" text-anchor="middle" fill="#111" stroke="#111" stroke-width="0.25" textLength="23.5" lengthAdjust="spacingAndGlyphs" >Normal</text>
<text x="497.0" y="244.3" font-size="8.0" text-anchor="middle" fill="#111" stroke="#111" stroke-width="0.25" textLength="9.0" lengthAdjust="spacingAndGlyphs" >PV</text>
<circle cx="231.9" cy="271.5" r="1.85" fill="#c2112f"/>
<text x="236.9" y="273.8" font-size="7.6" text-anchor="start" fill="#111" stroke="#111" stroke-width="0.25" textLength="22.5" lengthAdjust="spacingAndGlyphs" >Control</text>
<circle cx="270.4" cy="271.5" r="1.85" fill="#1b3f84"/>
<text x="275.4" y="273.8" font-size="7.6" text-anchor="start" fill="#111" stroke="#111" stroke-width="0.25" textLength="28.3" lengthAdjust="spacingAndGlyphs" >Thrombin</text>
</svg>
</body></html>
